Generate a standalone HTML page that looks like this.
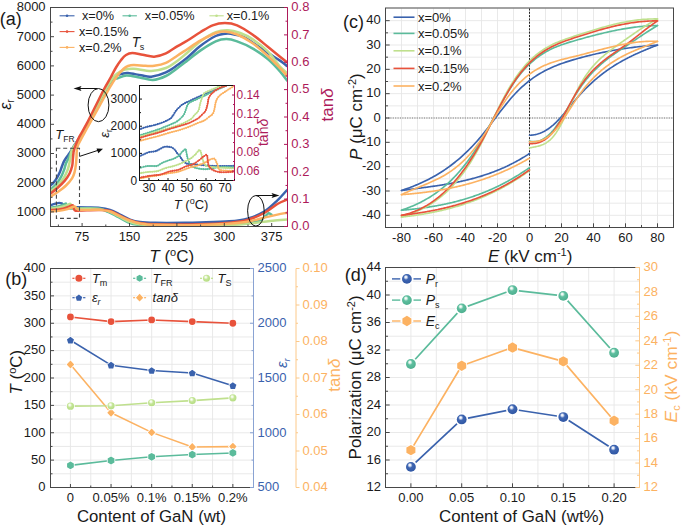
<!DOCTYPE html>
<html><head><meta charset="utf-8"><style>
html,body{margin:0;padding:0;background:#fff;}
svg{display:block;font-family:"Liberation Sans", sans-serif;}
</style></head><body>
<svg width="685" height="528" viewBox="0 0 685 528">
<rect width="685" height="528" fill="#fff"/>
<clipPath id="ca"><rect x="50.5" y="7.5" width="237" height="219"/></clipPath>
<g clip-path="url(#ca)">
<path d="M50.5,205.1 C51,204.95 52.52,204.5 53.5,204.2 C54.48,203.9 55.43,203.52 56.4,203.3 C57.37,203.08 58.42,202.9 59.3,202.9 C60.18,202.9 61.15,203.08 61.7,203.3 C62.25,203.52 62.13,203.78 62.6,204.2 C63.07,204.62 63.77,205.37 64.5,205.8 C65.23,206.23 66.08,206.57 67,206.8 C67.92,207.03 68.35,207.12 70,207.2 C71.65,207.28 74.07,207.25 76.9,207.3 C79.73,207.35 83.15,207.4 87,207.5 C90.85,207.6 96.17,207.48 100,207.9 C103.83,208.32 106.67,208.9 110,210 C113.33,211.1 116.67,212.9 120,214.5 C123.33,216.1 126.67,218.35 130,219.6 C133.33,220.85 135.83,221.47 140,222 C144.17,222.53 147.5,222.67 155,222.8 C162.5,222.93 177.5,222.85 185,222.8 C192.5,222.75 192.63,222.75 200,222.5 C207.37,222.25 221.17,222 229.2,221.3 C237.23,220.6 242.37,219.92 248.2,218.3 C254.03,216.68 259.33,214.58 264.2,211.6 C269.07,208.62 273.6,204 277.4,200.4 C281.2,196.8 285.4,191.73 287,190" fill="none" stroke="#3a62ad" stroke-width="2.4" stroke-linejoin="round" stroke-linecap="round" />
<path d="M50.5,207.7 C51.38,207.55 53.93,207.2 55.8,206.8 C57.67,206.4 60.08,205.83 61.7,205.3 C63.32,204.77 64.73,203.73 65.5,203.6 C66.27,203.47 65.97,203.85 66.3,204.5 C66.63,205.15 66.82,206.82 67.5,207.5 C68.18,208.18 68.83,208.47 70.4,208.6 C71.97,208.73 74.13,208.35 76.9,208.3 C79.67,208.25 83.15,208.22 87,208.3 C90.85,208.38 96.5,208.18 100,208.8 C103.5,209.42 105,210.63 108,212 C111,213.37 114.67,215.28 118,217 C121.33,218.72 124.67,221 128,222.3 C131.33,223.6 133.5,224.28 138,224.8 C142.5,225.32 144.67,225.32 155,225.4 C165.33,225.48 185.2,225.6 200,225.3 C214.8,225 233.8,224.4 243.8,223.6 C253.8,222.8 256.3,221.85 260,220.5 C263.7,219.15 264.57,216.7 266,215.5 C267.43,214.3 267.68,213.43 268.6,213.3 C269.52,213.17 271.02,214.47 271.5,214.7" fill="none" stroke="#5bbb9b" stroke-width="2.4" stroke-linejoin="round" stroke-linecap="round" />
<path d="M50.5,208.6 C51.88,208.4 56.15,207.95 58.8,207.4 C61.45,206.85 64.52,205.93 66.4,205.3 C68.28,204.67 69.33,203.65 70.1,203.6 C70.87,203.55 70.6,204.27 71,205 C71.4,205.73 71.67,207.4 72.5,208 C73.33,208.6 73.58,208.48 76,208.6 C78.42,208.72 83,208.62 87,208.7 C91,208.78 96.33,208.63 100,209.1 C103.67,209.57 105.83,210.27 109,211.5 C112.17,212.73 115.67,214.8 119,216.5 C122.33,218.2 125.67,220.38 129,221.7 C132.33,223.02 134.67,223.8 139,224.4 C143.33,225 144.83,225.15 155,225.3 C165.17,225.45 185.83,225.42 200,225.3 C214.17,225.18 229.78,225.13 240,224.6 C250.22,224.07 255.8,222.75 261.3,222.1 C266.8,221.45 268.72,221.13 273,220.7 C277.28,220.27 284.67,219.7 287,219.5" fill="none" stroke="#bfe08d" stroke-width="2.4" stroke-linejoin="round" stroke-linecap="round" />
<path d="M50.5,210 C51.88,209.9 56.15,209.78 58.8,209.4 C61.45,209.02 64.07,208.42 66.4,207.7 C68.73,206.98 71.55,204.85 72.8,205.1 C74.05,205.35 73.42,208.25 73.9,209.2 C74.38,210.15 74.68,210.57 75.7,210.8 C76.72,211.03 78.12,210.68 80,210.6 C81.88,210.52 83.67,210.4 87,210.3 C90.33,210.2 96.17,209.88 100,210 C103.83,210.12 106.67,210.07 110,211 C113.33,211.93 116.67,214.07 120,215.6 C123.33,217.13 126.67,218.97 130,220.2 C133.33,221.43 135.83,222.32 140,223 C144.17,223.68 145,224.08 155,224.3 C165,224.52 187.5,224.58 200,224.3 C212.5,224.02 221.97,223.38 230,222.6 C238.03,221.82 242.5,221.2 248.2,219.6 C253.9,218 259.33,215.6 264.2,213 C269.07,210.4 273.6,206.22 277.4,204 C281.2,201.78 285.4,200.42 287,199.7" fill="none" stroke="#e8523b" stroke-width="2.4" stroke-linejoin="round" stroke-linecap="round" />
<path d="M50.5,211.5 C51.88,211.4 55.97,211.3 58.8,210.9 C61.63,210.5 64.88,209.83 67.5,209.1 C70.12,208.37 72.93,206.58 74.5,206.5 C76.07,206.42 76.12,208.07 76.9,208.6 C77.68,209.13 77.52,209.48 79.2,209.7 C80.88,209.92 83.53,209.87 87,209.9 C90.47,209.93 96.17,209.63 100,209.9 C103.83,210.17 106.67,210.45 110,211.5 C113.33,212.55 116.67,214.68 120,216.2 C123.33,217.72 126.67,219.4 130,220.6 C133.33,221.8 135.83,222.72 140,223.4 C144.17,224.08 145,224.45 155,224.7 C165,224.95 185.2,225.32 200,224.9 C214.8,224.48 233.1,223.42 243.8,222.2 C254.5,220.98 258.6,218.85 264.2,217.6 C269.8,216.35 273.6,215.5 277.4,214.7 C281.2,213.9 285.4,213.12 287,212.8" fill="none" stroke="#fcb262" stroke-width="2.4" stroke-linejoin="round" stroke-linecap="round" />
<path d="M50.5,185.5 C51.03,184.98 52.65,183.63 53.7,182.4 C54.75,181.17 55.77,179.83 56.8,178.1 C57.83,176.37 59.08,173.85 59.9,172 C60.72,170.15 61.08,168.65 61.7,167 C62.32,165.35 62.98,163.43 63.6,162.1 C64.22,160.77 64.58,160.23 65.4,159 C66.22,157.77 67.57,156.03 68.5,154.7 C69.43,153.37 69.98,152.62 71,151 C72.02,149.38 73.2,147.17 74.6,145 C76,142.83 77.33,141.42 79.4,138 C81.47,134.58 84.3,129.5 87,124.5 C89.7,119.5 92.75,113.42 95.6,108 C98.45,102.58 101.55,96.67 104.1,92 C106.65,87.33 108.92,82.75 110.9,80 C112.88,77.25 114.13,76.53 116,75.5 C117.87,74.47 120.1,74.2 122.1,73.8 C124.1,73.4 124.83,72.85 128,73.1 C131.17,73.35 137.22,74.7 141.1,75.3 C144.98,75.9 147.17,77.2 151.3,76.7 C155.43,76.2 161.52,74.25 165.9,72.3 C170.28,70.35 174,67.47 177.6,65 C181.2,62.53 183.72,60.67 187.5,57.5 C191.28,54.33 195.6,49.58 200.3,46 C205,42.42 211.6,38.03 215.7,36 C219.8,33.97 222.35,34.17 224.9,33.8 C227.45,33.43 227.95,33.3 231,33.8 C234.05,34.3 239.12,35.02 243.2,36.8 C247.28,38.58 251.4,41.82 255.5,44.5 C259.6,47.18 263.72,50.22 267.8,52.9 C271.88,55.58 276.8,58.42 280,60.6 C283.2,62.78 285.83,65.1 287,66" fill="none" stroke="#3a62ad" stroke-width="2.5" stroke-linejoin="round" stroke-linecap="round" />
<path d="M50.5,189.8 C51.45,188.88 54.43,186.45 56.2,184.3 C57.97,182.15 59.77,179.37 61.1,176.9 C62.43,174.43 63.38,171.77 64.2,169.5 C65.02,167.23 65.28,165.15 66,163.3 C66.72,161.45 67.67,160.23 68.5,158.4 C69.33,156.57 70,154.37 71,152.3 C72,150.23 73.1,148.22 74.5,146 C75.9,143.78 77.32,142.42 79.4,139 C81.48,135.58 84.3,130.5 87,125.5 C89.7,120.5 92.75,114.42 95.6,109 C98.45,103.58 101.55,97.5 104.1,93 C106.65,88.5 109.17,84.33 110.9,82 C112.63,79.67 113.37,79.63 114.5,79 C115.63,78.37 115.7,78.78 117.7,78.2 C119.7,77.62 122.85,75.63 126.5,75.5 C130.15,75.37 135.22,76.67 139.6,77.4 C143.98,78.13 148.42,80.13 152.8,79.9 C157.18,79.67 161.77,77.98 165.9,76 C170.03,74.02 174,70.58 177.6,68 C181.2,65.42 183.72,63.4 187.5,60.5 C191.28,57.6 195.6,53.78 200.3,50.6 C205,47.42 211.35,43.32 215.7,41.4 C220.05,39.48 222.83,39.1 226.4,39.1 C229.97,39.1 232.77,39.87 237.1,41.4 C241.43,42.93 247.28,45.37 252.4,48.3 C257.52,51.23 263.2,55.17 267.8,59 C272.4,62.83 276.8,67.72 280,71.3 C283.2,74.88 285.83,78.97 287,80.5" fill="none" stroke="#5bbb9b" stroke-width="2.5" stroke-linejoin="round" stroke-linecap="round" />
<path d="M50.5,191.7 C51.65,190.67 55.22,187.77 57.4,185.5 C59.58,183.23 61.95,180.57 63.6,178.1 C65.25,175.63 66.38,172.95 67.3,170.7 C68.22,168.45 68.6,166.65 69.1,164.6 C69.6,162.55 69.88,160.67 70.3,158.4 C70.72,156.13 70.93,153.07 71.6,151 C72.27,148.93 73,148.08 74.3,146 C75.6,143.92 77.28,142 79.4,138.5 C81.52,135 84.3,130 87,125 C89.7,120 92.75,114 95.6,108.5 C98.45,103 101.55,96.67 104.1,92 C106.65,87.33 109.08,83.25 110.9,80.5 C112.72,77.75 113.62,76.87 115,75.5 C116.38,74.13 117.53,73.3 119.2,72.3 C120.87,71.3 122.57,70.1 125,69.5 C127.43,68.9 129.42,68.47 133.8,68.7 C138.18,68.93 145.95,71.02 151.3,70.9 C156.65,70.78 161.52,69.7 165.9,68 C170.28,66.3 174,63.28 177.6,60.7 C181.2,58.12 183.72,55.72 187.5,52.5 C191.28,49.28 195.6,44.78 200.3,41.4 C205,38.02 211.1,34.07 215.7,32.2 C220.3,30.33 223.82,30.07 227.9,30.2 C231.98,30.33 236.12,31.52 240.2,33 C244.28,34.48 247.8,36.03 252.4,39.1 C257,42.17 263.2,46.8 267.8,51.4 C272.4,56 276.8,63.1 280,66.7 C283.2,70.3 285.83,71.95 287,73" fill="none" stroke="#bfe08d" stroke-width="2.5" stroke-linejoin="round" stroke-linecap="round" />
<path d="M50.5,196.6 C51.65,195.88 54.82,194.15 57.4,192.3 C59.98,190.45 63.53,187.87 66,185.5 C68.47,183.13 70.77,180.35 72.2,178.1 C73.63,175.85 73.98,174.25 74.6,172 C75.22,169.75 75.58,167.07 75.9,164.6 C76.22,162.13 76.35,159.48 76.5,157.2 C76.65,154.92 76.47,153.08 76.8,150.9 C77.13,148.72 76.8,147.88 78.5,144.1 C80.2,140.32 84.15,133.42 87,128.2 C89.85,122.98 92.75,117.92 95.6,112.8 C98.45,107.68 101.55,102.03 104.1,97.5 C106.65,92.97 108.63,89.3 110.9,85.6 C113.17,81.9 115.58,78.12 117.7,75.3 C119.82,72.48 121.88,70.25 123.6,68.7 C125.32,67.15 126.3,66.62 128,66 C129.7,65.38 130.88,65.03 133.8,65 C136.72,64.97 142.1,65.67 145.5,65.8 C148.9,65.93 150.8,66.3 154.2,65.8 C157.6,65.3 162,64.52 165.9,62.8 C169.8,61.08 174,57.8 177.6,55.5 C181.2,53.2 183.72,51.47 187.5,49 C191.28,46.53 195.6,43.37 200.3,40.7 C205,38.03 211.6,34.53 215.7,33 C219.8,31.47 221.33,31.25 224.9,31.5 C228.47,31.75 232.52,32.58 237.1,34.5 C241.68,36.42 247.28,39.42 252.4,43 C257.52,46.58 263.2,51.8 267.8,56 C272.4,60.2 276.8,64.87 280,68.2 C283.2,71.53 285.83,74.7 287,76" fill="none" stroke="#fcb262" stroke-width="2.5" stroke-linejoin="round" stroke-linecap="round" />
<path d="M50.5,193.5 C51.65,192.58 55.02,190.15 57.4,188 C59.78,185.85 62.75,183.07 64.8,180.6 C66.85,178.13 68.47,175.67 69.7,173.2 C70.93,170.73 71.68,168.07 72.2,165.8 C72.72,163.53 72.6,161.65 72.8,159.6 C73,157.55 73.23,154.95 73.4,153.5 C73.57,152.05 73.37,152.47 73.8,150.9 C74.23,149.33 75.07,146.47 76,144.1 C76.93,141.73 77.57,140.2 79.4,136.7 C81.23,133.2 84.3,128.22 87,123.1 C89.7,117.98 92.75,111.68 95.6,106 C98.45,100.32 101.55,93.83 104.1,89 C106.65,84.17 108.92,80.58 110.9,77 C112.88,73.42 114.3,70.33 116,67.5 C117.7,64.67 119.43,62.08 121.1,60 C122.77,57.92 124.13,56.15 126,55 C127.87,53.85 129.53,53.13 132.3,53.1 C135.07,53.07 138.95,54.2 142.6,54.8 C146.25,55.4 150.32,56.93 154.2,56.7 C158.08,56.47 162,55.17 165.9,53.4 C169.8,51.63 174,48.25 177.6,46.1 C181.2,43.95 183.72,42.82 187.5,40.5 C191.28,38.18 196.12,34.73 200.3,32.2 C204.48,29.67 208.5,26.83 212.6,25.3 C216.7,23.77 220.82,23 224.9,23 C228.98,23 232.52,23.38 237.1,25.3 C241.68,27.22 247.28,30.92 252.4,34.5 C257.52,38.08 263.2,43.1 267.8,46.8 C272.4,50.5 276.8,54.12 280,56.7 C283.2,59.28 285.83,61.37 287,62.3" fill="none" stroke="#e8523b" stroke-width="2.5" stroke-linejoin="round" stroke-linecap="round" />
</g>
<line x1="50.5" y1="7.5" x2="287.5" y2="7.5" stroke="#474747" stroke-width="1" />
<line x1="50.5" y1="7" x2="50.5" y2="227" stroke="#474747" stroke-width="1" />
<line x1="50.5" y1="226.5" x2="287.5" y2="226.5" stroke="#474747" stroke-width="1" />
<line x1="287.5" y1="7.5" x2="287.5" y2="227" stroke="#ad1a5a" stroke-width="1" />
<line x1="82.1" y1="226.5" x2="82.1" y2="223" stroke="#474747" stroke-width="1" />
<text x="82.1" y="240.8" font-size="13" text-anchor="middle" fill="#1a1a1a" >75</text>
<line x1="129.5" y1="226.5" x2="129.5" y2="223" stroke="#474747" stroke-width="1" />
<text x="129.5" y="240.8" font-size="13" text-anchor="middle" fill="#1a1a1a" >150</text>
<line x1="176.9" y1="226.5" x2="176.9" y2="223" stroke="#474747" stroke-width="1" />
<text x="176.9" y="240.8" font-size="13" text-anchor="middle" fill="#1a1a1a" >225</text>
<line x1="224.3" y1="226.5" x2="224.3" y2="223" stroke="#474747" stroke-width="1" />
<text x="224.3" y="240.8" font-size="13" text-anchor="middle" fill="#1a1a1a" >300</text>
<line x1="271.7" y1="226.5" x2="271.7" y2="223" stroke="#474747" stroke-width="1" />
<text x="271.7" y="240.8" font-size="13" text-anchor="middle" fill="#1a1a1a" >375</text>
<line x1="58.4" y1="226.5" x2="58.4" y2="224.5" stroke="#474747" stroke-width="1" />
<line x1="105.8" y1="226.5" x2="105.8" y2="224.5" stroke="#474747" stroke-width="1" />
<line x1="153.2" y1="226.5" x2="153.2" y2="224.5" stroke="#474747" stroke-width="1" />
<line x1="200.6" y1="226.5" x2="200.6" y2="224.5" stroke="#474747" stroke-width="1" />
<line x1="248" y1="226.5" x2="248" y2="224.5" stroke="#474747" stroke-width="1" />
<line x1="50.5" y1="211.9" x2="54" y2="211.9" stroke="#474747" stroke-width="1" />
<text x="45.6" y="215.7" font-size="13" text-anchor="end" fill="#1a1a1a" >1000</text>
<line x1="50.5" y1="182.7" x2="54" y2="182.7" stroke="#474747" stroke-width="1" />
<text x="45.6" y="186.5" font-size="13" text-anchor="end" fill="#1a1a1a" >2000</text>
<line x1="50.5" y1="153.5" x2="54" y2="153.5" stroke="#474747" stroke-width="1" />
<text x="45.6" y="157.3" font-size="13" text-anchor="end" fill="#1a1a1a" >3000</text>
<line x1="50.5" y1="124.3" x2="54" y2="124.3" stroke="#474747" stroke-width="1" />
<text x="45.6" y="128.1" font-size="13" text-anchor="end" fill="#1a1a1a" >4000</text>
<line x1="50.5" y1="95.1" x2="54" y2="95.1" stroke="#474747" stroke-width="1" />
<text x="45.6" y="98.9" font-size="13" text-anchor="end" fill="#1a1a1a" >5000</text>
<line x1="50.5" y1="65.9" x2="54" y2="65.9" stroke="#474747" stroke-width="1" />
<text x="45.6" y="69.7" font-size="13" text-anchor="end" fill="#1a1a1a" >6000</text>
<line x1="50.5" y1="36.7" x2="54" y2="36.7" stroke="#474747" stroke-width="1" />
<text x="45.6" y="40.5" font-size="13" text-anchor="end" fill="#1a1a1a" >7000</text>
<line x1="50.5" y1="7.5" x2="54" y2="7.5" stroke="#474747" stroke-width="1" />
<text x="45.6" y="11.3" font-size="13" text-anchor="end" fill="#1a1a1a" >8000</text>
<line x1="50.5" y1="226.5" x2="52.5" y2="226.5" stroke="#474747" stroke-width="1" />
<line x1="50.5" y1="197.3" x2="52.5" y2="197.3" stroke="#474747" stroke-width="1" />
<line x1="50.5" y1="168.1" x2="52.5" y2="168.1" stroke="#474747" stroke-width="1" />
<line x1="50.5" y1="138.9" x2="52.5" y2="138.9" stroke="#474747" stroke-width="1" />
<line x1="50.5" y1="109.7" x2="52.5" y2="109.7" stroke="#474747" stroke-width="1" />
<line x1="50.5" y1="80.5" x2="52.5" y2="80.5" stroke="#474747" stroke-width="1" />
<line x1="50.5" y1="51.3" x2="52.5" y2="51.3" stroke="#474747" stroke-width="1" />
<line x1="50.5" y1="22.1" x2="52.5" y2="22.1" stroke="#474747" stroke-width="1" />
<line x1="287.5" y1="226.5" x2="284" y2="226.5" stroke="#ad1a5a" stroke-width="1" />
<text x="291.3" y="230.3" font-size="13" text-anchor="start" fill="#ad1a5a" >0.0</text>
<line x1="287.5" y1="199.12" x2="284" y2="199.12" stroke="#ad1a5a" stroke-width="1" />
<text x="291.3" y="202.93" font-size="13" text-anchor="start" fill="#ad1a5a" >0.1</text>
<line x1="287.5" y1="171.75" x2="284" y2="171.75" stroke="#ad1a5a" stroke-width="1" />
<text x="291.3" y="175.55" font-size="13" text-anchor="start" fill="#ad1a5a" >0.2</text>
<line x1="287.5" y1="144.38" x2="284" y2="144.38" stroke="#ad1a5a" stroke-width="1" />
<text x="291.3" y="148.18" font-size="13" text-anchor="start" fill="#ad1a5a" >0.3</text>
<line x1="287.5" y1="117" x2="284" y2="117" stroke="#ad1a5a" stroke-width="1" />
<text x="291.3" y="120.8" font-size="13" text-anchor="start" fill="#ad1a5a" >0.4</text>
<line x1="287.5" y1="89.62" x2="284" y2="89.62" stroke="#ad1a5a" stroke-width="1" />
<text x="291.3" y="93.42" font-size="13" text-anchor="start" fill="#ad1a5a" >0.5</text>
<line x1="287.5" y1="62.25" x2="284" y2="62.25" stroke="#ad1a5a" stroke-width="1" />
<text x="291.3" y="66.05" font-size="13" text-anchor="start" fill="#ad1a5a" >0.6</text>
<line x1="287.5" y1="34.88" x2="284" y2="34.88" stroke="#ad1a5a" stroke-width="1" />
<text x="291.3" y="38.68" font-size="13" text-anchor="start" fill="#ad1a5a" >0.7</text>
<line x1="287.5" y1="7.5" x2="284" y2="7.5" stroke="#ad1a5a" stroke-width="1" />
<text x="291.3" y="11.3" font-size="13" text-anchor="start" fill="#ad1a5a" >0.8</text>
<line x1="287.5" y1="212.81" x2="285.5" y2="212.81" stroke="#ad1a5a" stroke-width="1" />
<line x1="287.5" y1="185.44" x2="285.5" y2="185.44" stroke="#ad1a5a" stroke-width="1" />
<line x1="287.5" y1="158.06" x2="285.5" y2="158.06" stroke="#ad1a5a" stroke-width="1" />
<line x1="287.5" y1="130.69" x2="285.5" y2="130.69" stroke="#ad1a5a" stroke-width="1" />
<line x1="287.5" y1="103.31" x2="285.5" y2="103.31" stroke="#ad1a5a" stroke-width="1" />
<line x1="287.5" y1="75.94" x2="285.5" y2="75.94" stroke="#ad1a5a" stroke-width="1" />
<line x1="287.5" y1="48.56" x2="285.5" y2="48.56" stroke="#ad1a5a" stroke-width="1" />
<line x1="287.5" y1="21.19" x2="285.5" y2="21.19" stroke="#ad1a5a" stroke-width="1" />
<text x="-0.3" y="24.9" font-size="18" text-anchor="start" fill="#1a1a1a" >(a)</text>
<text x="149.3" y="262" font-size="17" text-anchor="start" fill="#1a1a1a" ><tspan font-style="italic">T</tspan> (<tspan font-size="11" dy="-6">o</tspan><tspan dy="6">C)</tspan></text>
<text transform="translate(333.3,104.9) rotate(-90)" font-size="17" text-anchor="middle" fill="#ad1a5a">tan<tspan font-style="italic">δ</tspan></text>
<text transform="translate(10.6,104.6) rotate(-90)" font-size="16" text-anchor="middle" fill="#1a1a1a"><tspan font-style="italic">ε</tspan><tspan font-size="10" dy="3.5">r</tspan></text>
<line x1="59.6" y1="15.8" x2="74.5" y2="15.8" stroke="#3a62ad" stroke-width="1.1" />
<circle cx="67.05" cy="15.8" r="1.3" fill="#3a62ad"/>
<text x="81.9" y="20.2" font-size="12.7" text-anchor="start" fill="#1a1a1a" >x=0%</text>
<line x1="122.5" y1="15.8" x2="136.9" y2="15.8" stroke="#5bbb9b" stroke-width="1.1" />
<circle cx="129.7" cy="15.8" r="1.3" fill="#5bbb9b"/>
<text x="144.8" y="20.2" font-size="12.7" text-anchor="start" fill="#1a1a1a" >x=0.05%</text>
<line x1="209.4" y1="15.8" x2="223.7" y2="15.8" stroke="#bfe08d" stroke-width="1.1" />
<circle cx="216.55" cy="15.8" r="1.3" fill="#bfe08d"/>
<text x="226.7" y="20.2" font-size="12.7" text-anchor="start" fill="#1a1a1a" >x=0.1%</text>
<line x1="59.6" y1="31.6" x2="74.5" y2="31.6" stroke="#e8523b" stroke-width="1.1" />
<circle cx="67.05" cy="31.6" r="1.3" fill="#e8523b"/>
<text x="78.9" y="36" font-size="12.7" text-anchor="start" fill="#1a1a1a" >x=0.15%</text>
<line x1="59.6" y1="47.4" x2="74.5" y2="47.4" stroke="#fcb262" stroke-width="1.1" />
<circle cx="67.05" cy="47.4" r="1.3" fill="#fcb262"/>
<text x="78.9" y="51.8" font-size="12.7" text-anchor="start" fill="#1a1a1a" >x=0.2%</text>
<text x="131.8" y="46.8" font-size="13.8" text-anchor="start" fill="#1a1a1a" ><tspan font-style="italic">T</tspan><tspan font-size="9" dx="-0.6" dy="3.4">s</tspan></text>
<text x="55.3" y="138.8" font-size="13.2" text-anchor="start" fill="#1a1a1a" ><tspan font-style="italic">T</tspan><tspan font-size="8.5" dy="3">FR</tspan></text>
<rect x="56.4" y="148.2" width="23.1" height="70.2" fill="none" stroke="#474747" stroke-width="1.1" stroke-dasharray="4,2.8"/>
<line x1="79.5" y1="156.4" x2="100" y2="149.7" stroke="#111" stroke-width="1" />
<path d="M103,148.7 L96.5,148.4 L98.3,153.2 Z" fill="#111"/>
<ellipse cx="98.5" cy="105.1" rx="10.4" ry="16.6" fill="none" stroke="#111" stroke-width="1"/>
<line x1="97.5" y1="88.5" x2="78" y2="88.5" stroke="#111" stroke-width="1" />
<path d="M73.5,88.5 L81.5,86.1 L80,88.5 L81.5,90.9 Z" fill="#111"/>
<ellipse cx="255.9" cy="210.8" rx="8.3" ry="15.3" fill="none" stroke="#111" stroke-width="1"/>
<line x1="256" y1="195.5" x2="275" y2="195.5" stroke="#111" stroke-width="1" />
<path d="M279.5,195.5 L271.5,193.1 L273,195.5 L271.5,197.9 Z" fill="#111"/>
<rect x="139.5" y="85.5" width="95" height="95" fill="#fff"/>
<clipPath id="ci"><rect x="139.5" y="85.5" width="95" height="95"/></clipPath>
<g clip-path="url(#ci)">
<path d="M139.6,156.2 C140.38,155.85 142.77,154.77 144.3,154.1 C145.83,153.43 147.15,152.63 148.8,152.2 C150.45,151.77 152.73,151.82 154.2,151.5 C155.67,151.18 156.35,150.87 157.6,150.3 C158.85,149.73 160.5,148.7 161.7,148.1 C162.9,147.5 163.53,146.9 164.8,146.7 C166.07,146.5 168.05,146.73 169.3,146.9 C170.55,147.07 171.35,147.18 172.3,147.7 C173.25,148.22 174.17,149.05 175,150 C175.83,150.95 176.63,152.57 177.3,153.4 C177.97,154.23 178.5,154.4 179,155 C179.5,155.6 179.72,156.15 180.3,157 C180.88,157.85 181.62,159.08 182.5,160.1 C183.38,161.12 184.58,162.47 185.6,163.1 C186.62,163.73 187.33,163.72 188.6,163.9 C189.87,164.08 191.18,164.02 193.2,164.2 C195.22,164.38 197.93,164.73 200.7,165 C203.47,165.27 206.92,165.63 209.8,165.8 C212.68,165.97 213.8,165.98 218,166 C222.2,166.02 232.17,165.92 235,165.9" fill="none" stroke="#3a62ad" stroke-width="1.0" stroke-linejoin="round" stroke-linecap="round" />
<path d="M139.6,156.2 C140.38,155.85 142.77,154.77 144.3,154.1 C145.83,153.43 147.15,152.63 148.8,152.2 C150.45,151.77 152.73,151.82 154.2,151.5 C155.67,151.18 156.35,150.87 157.6,150.3 C158.85,149.73 160.5,148.7 161.7,148.1 C162.9,147.5 163.53,146.9 164.8,146.7 C166.07,146.5 168.05,146.73 169.3,146.9 C170.55,147.07 171.35,147.18 172.3,147.7 C173.25,148.22 174.17,149.05 175,150 C175.83,150.95 176.63,152.57 177.3,153.4 C177.97,154.23 178.5,154.4 179,155 C179.5,155.6 179.72,156.15 180.3,157 C180.88,157.85 181.62,159.08 182.5,160.1 C183.38,161.12 184.58,162.47 185.6,163.1 C186.62,163.73 187.33,163.72 188.6,163.9 C189.87,164.08 191.18,164.02 193.2,164.2 C195.22,164.38 197.93,164.73 200.7,165 C203.47,165.27 206.92,165.63 209.8,165.8 C212.68,165.97 213.8,165.98 218,166 C222.2,166.02 232.17,165.92 235,165.9" fill="none" stroke="#3a62ad" stroke-width="2.1" stroke-linecap="round" stroke-dasharray="0 2.1"/>
<path d="M139.6,167.9 C140.77,167.62 144.53,166.52 146.6,166.2 C148.67,165.88 150.23,166.05 152,166 C153.77,165.95 155.58,166.37 157.2,165.9 C158.82,165.43 159.93,164.08 161.7,163.2 C163.47,162.32 165.9,161.3 167.8,160.6 C169.7,159.9 171.23,159.83 173.1,159 C174.97,158.17 177.55,156.75 179,155.6 C180.45,154.45 180.95,153 181.8,152.1 C182.65,151.2 183.47,150.7 184.1,150.2 C184.73,149.7 185.1,148.15 185.6,149.1 C186.1,150.05 186.6,153.88 187.1,155.9 C187.6,157.92 187.72,159.43 188.6,161.2 C189.48,162.97 190.88,165.3 192.4,166.5 C193.92,167.7 195.68,167.95 197.7,168.4 C199.72,168.85 202.48,169.13 204.5,169.2 C206.52,169.27 207.55,169.12 209.8,168.8 C212.05,168.48 213.8,167.57 218,167.3 C222.2,167.03 232.17,167.22 235,167.2" fill="none" stroke="#5bbb9b" stroke-width="1.0" stroke-linejoin="round" stroke-linecap="round" />
<path d="M139.6,167.9 C140.77,167.62 144.53,166.52 146.6,166.2 C148.67,165.88 150.23,166.05 152,166 C153.77,165.95 155.58,166.37 157.2,165.9 C158.82,165.43 159.93,164.08 161.7,163.2 C163.47,162.32 165.9,161.3 167.8,160.6 C169.7,159.9 171.23,159.83 173.1,159 C174.97,158.17 177.55,156.75 179,155.6 C180.45,154.45 180.95,153 181.8,152.1 C182.65,151.2 183.47,150.7 184.1,150.2 C184.73,149.7 185.1,148.15 185.6,149.1 C186.1,150.05 186.6,153.88 187.1,155.9 C187.6,157.92 187.72,159.43 188.6,161.2 C189.48,162.97 190.88,165.3 192.4,166.5 C193.92,167.7 195.68,167.95 197.7,168.4 C199.72,168.85 202.48,169.13 204.5,169.2 C206.52,169.27 207.55,169.12 209.8,168.8 C212.05,168.48 213.8,167.57 218,167.3 C222.2,167.03 232.17,167.22 235,167.2" fill="none" stroke="#5bbb9b" stroke-width="2.1" stroke-linecap="round" stroke-dasharray="0 2.1"/>
<path d="M139.6,173.2 C141.13,172.98 145.87,172.23 148.8,171.9 C151.73,171.57 154.42,171.83 157.2,171.2 C159.98,170.57 162.85,168.93 165.5,168.1 C168.15,167.27 171.02,166.78 173.1,166.2 C175.18,165.62 175.92,165.43 178,164.6 C180.08,163.77 183.33,162.33 185.6,161.2 C187.87,160.07 189.83,159.07 191.6,157.8 C193.37,156.53 195.05,154.8 196.2,153.6 C197.35,152.4 197.87,151.17 198.5,150.6 C199.13,150.03 199.57,149.82 200,150.2 C200.43,150.58 200.6,151.18 201.1,152.9 C201.6,154.62 202.3,158.48 203,160.5 C203.7,162.52 204.42,164 205.3,165 C206.18,166 206.18,166.08 208.3,166.5 C210.42,166.92 213.55,167.18 218,167.5 C222.45,167.82 232.17,168.25 235,168.4" fill="none" stroke="#bfe08d" stroke-width="1.0" stroke-linejoin="round" stroke-linecap="round" />
<path d="M139.6,173.2 C141.13,172.98 145.87,172.23 148.8,171.9 C151.73,171.57 154.42,171.83 157.2,171.2 C159.98,170.57 162.85,168.93 165.5,168.1 C168.15,167.27 171.02,166.78 173.1,166.2 C175.18,165.62 175.92,165.43 178,164.6 C180.08,163.77 183.33,162.33 185.6,161.2 C187.87,160.07 189.83,159.07 191.6,157.8 C193.37,156.53 195.05,154.8 196.2,153.6 C197.35,152.4 197.87,151.17 198.5,150.6 C199.13,150.03 199.57,149.82 200,150.2 C200.43,150.58 200.6,151.18 201.1,152.9 C201.6,154.62 202.3,158.48 203,160.5 C203.7,162.52 204.42,164 205.3,165 C206.18,166 206.18,166.08 208.3,166.5 C210.42,166.92 213.55,167.18 218,167.5 C222.45,167.82 232.17,168.25 235,168.4" fill="none" stroke="#bfe08d" stroke-width="2.1" stroke-linecap="round" stroke-dasharray="0 2.1"/>
<path d="M139.6,178.5 C141.4,178.17 146.97,177.08 150.4,176.5 C153.83,175.92 157.05,175.57 160.2,175 C163.35,174.43 166.33,173.63 169.3,173.1 C172.27,172.57 174.65,172.7 178,171.8 C181.35,170.9 185.87,168.83 189.4,167.7 C192.93,166.57 196.3,166.02 199.2,165 C202.1,163.98 204.9,162.55 206.8,161.6 C208.7,160.65 209.47,159.8 210.6,159.3 C211.73,158.8 212.85,158.6 213.6,158.6 C214.35,158.6 214.6,158.62 215.1,159.3 C215.6,159.98 216.12,161.62 216.6,162.7 C217.08,163.78 217.62,164.7 218,165.8 C218.38,166.9 218.13,168.53 218.9,169.3 C219.67,170.07 219.92,170.13 222.6,170.4 C225.28,170.67 232.93,170.82 235,170.9" fill="none" stroke="#fcb262" stroke-width="1.0" stroke-linejoin="round" stroke-linecap="round" />
<path d="M139.6,178.5 C141.4,178.17 146.97,177.08 150.4,176.5 C153.83,175.92 157.05,175.57 160.2,175 C163.35,174.43 166.33,173.63 169.3,173.1 C172.27,172.57 174.65,172.7 178,171.8 C181.35,170.9 185.87,168.83 189.4,167.7 C192.93,166.57 196.3,166.02 199.2,165 C202.1,163.98 204.9,162.55 206.8,161.6 C208.7,160.65 209.47,159.8 210.6,159.3 C211.73,158.8 212.85,158.6 213.6,158.6 C214.35,158.6 214.6,158.62 215.1,159.3 C215.6,159.98 216.12,161.62 216.6,162.7 C217.08,163.78 217.62,164.7 218,165.8 C218.38,166.9 218.13,168.53 218.9,169.3 C219.67,170.07 219.92,170.13 222.6,170.4 C225.28,170.67 232.93,170.82 235,170.9" fill="none" stroke="#fcb262" stroke-width="2.1" stroke-linecap="round" stroke-dasharray="0 2.1"/>
<path d="M139.6,177.7 C141.4,177.37 146.97,176.22 150.4,175.7 C153.83,175.18 157.05,175.3 160.2,174.6 C163.35,173.9 166.33,172.28 169.3,171.5 C172.27,170.72 175.28,170.73 178,169.9 C180.72,169.07 183.07,167.45 185.6,166.5 C188.13,165.55 190.93,165.27 193.2,164.2 C195.47,163.13 197.43,161.42 199.2,160.1 C200.97,158.78 202.53,157.18 203.8,156.3 C205.07,155.42 206.18,154.48 206.8,154.8 C207.42,155.12 207.25,156.63 207.5,158.2 C207.75,159.77 207.78,162.5 208.3,164.2 C208.82,165.9 209.58,167.32 210.6,168.4 C211.62,169.48 213.17,170.13 214.4,170.7 C215.63,171.27 216.63,171.53 218,171.8 C219.37,172.07 219.77,172.32 222.6,172.3 C225.43,172.28 232.93,171.8 235,171.7" fill="none" stroke="#e8523b" stroke-width="1.0" stroke-linejoin="round" stroke-linecap="round" />
<path d="M139.6,177.7 C141.4,177.37 146.97,176.22 150.4,175.7 C153.83,175.18 157.05,175.3 160.2,174.6 C163.35,173.9 166.33,172.28 169.3,171.5 C172.27,170.72 175.28,170.73 178,169.9 C180.72,169.07 183.07,167.45 185.6,166.5 C188.13,165.55 190.93,165.27 193.2,164.2 C195.47,163.13 197.43,161.42 199.2,160.1 C200.97,158.78 202.53,157.18 203.8,156.3 C205.07,155.42 206.18,154.48 206.8,154.8 C207.42,155.12 207.25,156.63 207.5,158.2 C207.75,159.77 207.78,162.5 208.3,164.2 C208.82,165.9 209.58,167.32 210.6,168.4 C211.62,169.48 213.17,170.13 214.4,170.7 C215.63,171.27 216.63,171.53 218,171.8 C219.37,172.07 219.77,172.32 222.6,172.3 C225.43,172.28 232.93,171.8 235,171.7" fill="none" stroke="#e8523b" stroke-width="2.1" stroke-linecap="round" stroke-dasharray="0 2.1"/>
<path d="M139.6,129.3 C140.6,128.95 143.48,127.82 145.6,127.2 C147.72,126.58 150.53,126.03 152.3,125.6 C154.07,125.17 154.55,125.1 156.2,124.6 C157.85,124.1 160.32,123.32 162.2,122.6 C164.08,121.88 166.07,121.02 167.5,120.3 C168.93,119.58 170.02,118.92 170.8,118.3 C171.58,117.68 171.77,117.17 172.2,116.6 C172.63,116.03 172.95,115.6 173.4,114.9 C173.85,114.2 174.35,113.25 174.9,112.4 C175.45,111.55 176.02,110.62 176.7,109.8 C177.38,108.98 178.13,108.32 179,107.5 C179.87,106.68 180.83,105.68 181.9,104.9 C182.97,104.12 184.13,103.43 185.4,102.8 C186.67,102.17 188.03,101.78 189.5,101.1 C190.97,100.42 192.63,99.43 194.2,98.7 C195.77,97.97 197.53,97.33 198.9,96.7 C200.27,96.07 201.38,95.38 202.4,94.9 C203.42,94.42 203.83,94.25 205,93.8 C206.17,93.35 207.4,92.97 209.4,92.2 C211.4,91.43 214.48,90.22 217,89.2 C219.52,88.18 222.83,86.75 224.5,86.1 C226.17,85.45 226.58,85.43 227,85.3" fill="none" stroke="#3a62ad" stroke-width="1.0" stroke-linejoin="round" stroke-linecap="round" />
<path d="M139.6,129.3 C140.6,128.95 143.48,127.82 145.6,127.2 C147.72,126.58 150.53,126.03 152.3,125.6 C154.07,125.17 154.55,125.1 156.2,124.6 C157.85,124.1 160.32,123.32 162.2,122.6 C164.08,121.88 166.07,121.02 167.5,120.3 C168.93,119.58 170.02,118.92 170.8,118.3 C171.58,117.68 171.77,117.17 172.2,116.6 C172.63,116.03 172.95,115.6 173.4,114.9 C173.85,114.2 174.35,113.25 174.9,112.4 C175.45,111.55 176.02,110.62 176.7,109.8 C177.38,108.98 178.13,108.32 179,107.5 C179.87,106.68 180.83,105.68 181.9,104.9 C182.97,104.12 184.13,103.43 185.4,102.8 C186.67,102.17 188.03,101.78 189.5,101.1 C190.97,100.42 192.63,99.43 194.2,98.7 C195.77,97.97 197.53,97.33 198.9,96.7 C200.27,96.07 201.38,95.38 202.4,94.9 C203.42,94.42 203.83,94.25 205,93.8 C206.17,93.35 207.4,92.97 209.4,92.2 C211.4,91.43 214.48,90.22 217,89.2 C219.52,88.18 222.83,86.75 224.5,86.1 C226.17,85.45 226.58,85.43 227,85.3" fill="none" stroke="#3a62ad" stroke-width="2.1" stroke-linecap="round" stroke-dasharray="0 2.1"/>
<path d="M139.6,135.3 C141.17,134.83 145.78,133.52 149,132.5 C152.22,131.48 155.58,130.42 158.9,129.2 C162.22,127.98 166.13,126.35 168.9,125.2 C171.67,124.05 173.82,123.18 175.5,122.3 C177.18,121.42 178,120.7 179,119.9 C180,119.1 180.72,118.32 181.5,117.5 C182.28,116.68 183.1,115.93 183.7,115 C184.3,114.07 184.67,113 185.1,111.9 C185.53,110.8 185.95,109.43 186.3,108.4 C186.65,107.37 186.77,106.58 187.2,105.7 C187.63,104.82 188.22,103.78 188.9,103.1 C189.58,102.42 190.22,102.13 191.3,101.6 C192.38,101.07 193.95,100.57 195.4,99.9 C196.85,99.23 198.4,98.33 200,97.6 C201.6,96.87 203.43,96.23 205,95.5 C206.57,94.77 207.4,94.15 209.4,93.2 C211.4,92.25 214.48,90.93 217,89.8 C219.52,88.67 222.83,87.15 224.5,86.4 C226.17,85.65 226.58,85.48 227,85.3" fill="none" stroke="#5bbb9b" stroke-width="1.0" stroke-linejoin="round" stroke-linecap="round" />
<path d="M139.6,135.3 C141.17,134.83 145.78,133.52 149,132.5 C152.22,131.48 155.58,130.42 158.9,129.2 C162.22,127.98 166.13,126.35 168.9,125.2 C171.67,124.05 173.82,123.18 175.5,122.3 C177.18,121.42 178,120.7 179,119.9 C180,119.1 180.72,118.32 181.5,117.5 C182.28,116.68 183.1,115.93 183.7,115 C184.3,114.07 184.67,113 185.1,111.9 C185.53,110.8 185.95,109.43 186.3,108.4 C186.65,107.37 186.77,106.58 187.2,105.7 C187.63,104.82 188.22,103.78 188.9,103.1 C189.58,102.42 190.22,102.13 191.3,101.6 C192.38,101.07 193.95,100.57 195.4,99.9 C196.85,99.23 198.4,98.33 200,97.6 C201.6,96.87 203.43,96.23 205,95.5 C206.57,94.77 207.4,94.15 209.4,93.2 C211.4,92.25 214.48,90.93 217,89.8 C219.52,88.67 222.83,87.15 224.5,86.4 C226.17,85.65 226.58,85.48 227,85.3" fill="none" stroke="#5bbb9b" stroke-width="2.1" stroke-linecap="round" stroke-dasharray="0 2.1"/>
<path d="M139.6,136.6 C142.82,135.7 152.33,133.15 158.9,131.2 C165.47,129.25 174.32,126.53 179,124.9 C183.68,123.27 184.92,122.45 187,121.4 C189.08,120.35 190.3,119.6 191.5,118.6 C192.7,117.6 193.27,116.43 194.2,115.4 C195.13,114.37 196.32,113.38 197.1,112.4 C197.88,111.42 198.42,110.85 198.9,109.5 C199.38,108.15 199.62,105.85 200,104.3 C200.38,102.75 200.8,101.47 201.2,100.2 C201.6,98.93 201.92,97.85 202.4,96.7 C202.88,95.55 202.93,94.3 204.1,93.3 C205.27,92.3 207.52,91.58 209.4,90.7 C211.28,89.82 213.77,88.7 215.4,88 C217.03,87.3 218.1,86.95 219.2,86.5 C220.3,86.05 221.53,85.5 222,85.3" fill="none" stroke="#bfe08d" stroke-width="1.0" stroke-linejoin="round" stroke-linecap="round" />
<path d="M139.6,136.6 C142.82,135.7 152.33,133.15 158.9,131.2 C165.47,129.25 174.32,126.53 179,124.9 C183.68,123.27 184.92,122.45 187,121.4 C189.08,120.35 190.3,119.6 191.5,118.6 C192.7,117.6 193.27,116.43 194.2,115.4 C195.13,114.37 196.32,113.38 197.1,112.4 C197.88,111.42 198.42,110.85 198.9,109.5 C199.38,108.15 199.62,105.85 200,104.3 C200.38,102.75 200.8,101.47 201.2,100.2 C201.6,98.93 201.92,97.85 202.4,96.7 C202.88,95.55 202.93,94.3 204.1,93.3 C205.27,92.3 207.52,91.58 209.4,90.7 C211.28,89.82 213.77,88.7 215.4,88 C217.03,87.3 218.1,86.95 219.2,86.5 C220.3,86.05 221.53,85.5 222,85.3" fill="none" stroke="#bfe08d" stroke-width="2.1" stroke-linecap="round" stroke-dasharray="0 2.1"/>
<path d="M139.6,140.9 C141.17,140.5 145.78,139.33 149,138.5 C152.22,137.67 155.58,136.83 158.9,135.9 C162.22,134.97 165.55,133.85 168.9,132.9 C172.25,131.95 175.65,131.22 179,130.2 C182.35,129.18 185.83,128.02 189,126.8 C192.17,125.58 195.48,123.93 198,122.9 C200.52,121.87 202.08,121.73 204.1,120.6 C206.12,119.47 208.65,117.23 210.1,116.1 C211.55,114.97 212.1,114.88 212.8,113.8 C213.5,112.72 213.8,111.55 214.3,109.6 C214.8,107.65 215.23,104.05 215.8,102.1 C216.37,100.15 217,99.05 217.7,97.9 C218.4,96.75 218.98,96.08 220,95.2 C221.02,94.32 222.42,93.55 223.8,92.6 C225.18,91.65 226.67,90.52 228.3,89.5 C229.93,88.48 232.48,87.12 233.6,86.5 C234.72,85.88 234.77,85.92 235,85.8" fill="none" stroke="#fcb262" stroke-width="1.0" stroke-linejoin="round" stroke-linecap="round" />
<path d="M139.6,140.9 C141.17,140.5 145.78,139.33 149,138.5 C152.22,137.67 155.58,136.83 158.9,135.9 C162.22,134.97 165.55,133.85 168.9,132.9 C172.25,131.95 175.65,131.22 179,130.2 C182.35,129.18 185.83,128.02 189,126.8 C192.17,125.58 195.48,123.93 198,122.9 C200.52,121.87 202.08,121.73 204.1,120.6 C206.12,119.47 208.65,117.23 210.1,116.1 C211.55,114.97 212.1,114.88 212.8,113.8 C213.5,112.72 213.8,111.55 214.3,109.6 C214.8,107.65 215.23,104.05 215.8,102.1 C216.37,100.15 217,99.05 217.7,97.9 C218.4,96.75 218.98,96.08 220,95.2 C221.02,94.32 222.42,93.55 223.8,92.6 C225.18,91.65 226.67,90.52 228.3,89.5 C229.93,88.48 232.48,87.12 233.6,86.5 C234.72,85.88 234.77,85.92 235,85.8" fill="none" stroke="#fcb262" stroke-width="2.1" stroke-linecap="round" stroke-dasharray="0 2.1"/>
<path d="M139.6,138 C141.17,137.53 145.78,136.12 149,135.2 C152.22,134.28 155.58,133.5 158.9,132.5 C162.22,131.5 165.55,130.25 168.9,129.2 C172.25,128.15 175.73,127.2 179,126.2 C182.27,125.2 185.33,124.5 188.5,123.2 C191.67,121.9 195.92,119.65 198,118.4 C200.08,117.15 199.87,116.78 201,115.7 C202.13,114.62 203.85,113.23 204.8,111.9 C205.75,110.57 206.18,109.28 206.7,107.7 C207.22,106.12 207.58,103.97 207.9,102.4 C208.22,100.83 208.1,99.62 208.6,98.3 C209.1,96.98 210.13,95.52 210.9,94.5 C211.67,93.48 212.18,93.03 213.2,92.2 C214.22,91.37 215.62,90.32 217,89.5 C218.38,88.68 220.12,87.87 221.5,87.3 C222.88,86.73 224.38,86.43 225.3,86.1 C226.22,85.77 226.72,85.43 227,85.3" fill="none" stroke="#e8523b" stroke-width="1.0" stroke-linejoin="round" stroke-linecap="round" />
<path d="M139.6,138 C141.17,137.53 145.78,136.12 149,135.2 C152.22,134.28 155.58,133.5 158.9,132.5 C162.22,131.5 165.55,130.25 168.9,129.2 C172.25,128.15 175.73,127.2 179,126.2 C182.27,125.2 185.33,124.5 188.5,123.2 C191.67,121.9 195.92,119.65 198,118.4 C200.08,117.15 199.87,116.78 201,115.7 C202.13,114.62 203.85,113.23 204.8,111.9 C205.75,110.57 206.18,109.28 206.7,107.7 C207.22,106.12 207.58,103.97 207.9,102.4 C208.22,100.83 208.1,99.62 208.6,98.3 C209.1,96.98 210.13,95.52 210.9,94.5 C211.67,93.48 212.18,93.03 213.2,92.2 C214.22,91.37 215.62,90.32 217,89.5 C218.38,88.68 220.12,87.87 221.5,87.3 C222.88,86.73 224.38,86.43 225.3,86.1 C226.22,85.77 226.72,85.43 227,85.3" fill="none" stroke="#e8523b" stroke-width="2.1" stroke-linecap="round" stroke-dasharray="0 2.1"/>
</g>
<line x1="139.5" y1="85.5" x2="234.5" y2="85.5" stroke="#111" stroke-width="1" />
<line x1="139.5" y1="85" x2="139.5" y2="181" stroke="#111" stroke-width="1" />
<line x1="139.5" y1="180.5" x2="234.5" y2="180.5" stroke="#111" stroke-width="1" />
<line x1="234.5" y1="85" x2="234.5" y2="181" stroke="#ad1a5a" stroke-width="1" />
<line x1="149" y1="180.5" x2="149" y2="178" stroke="#111" stroke-width="1" />
<text x="149" y="192.1" font-size="11.9" text-anchor="middle" fill="#1a1a1a" >30</text>
<line x1="168" y1="180.5" x2="168" y2="178" stroke="#111" stroke-width="1" />
<text x="168" y="192.1" font-size="11.9" text-anchor="middle" fill="#1a1a1a" >40</text>
<line x1="187" y1="180.5" x2="187" y2="178" stroke="#111" stroke-width="1" />
<text x="187" y="192.1" font-size="11.9" text-anchor="middle" fill="#1a1a1a" >50</text>
<line x1="206" y1="180.5" x2="206" y2="178" stroke="#111" stroke-width="1" />
<text x="206" y="192.1" font-size="11.9" text-anchor="middle" fill="#1a1a1a" >60</text>
<line x1="225" y1="180.5" x2="225" y2="178" stroke="#111" stroke-width="1" />
<text x="225" y="192.1" font-size="11.9" text-anchor="middle" fill="#1a1a1a" >70</text>
<line x1="158.5" y1="180.5" x2="158.5" y2="179" stroke="#111" stroke-width="1" />
<line x1="177.5" y1="180.5" x2="177.5" y2="179" stroke="#111" stroke-width="1" />
<line x1="196.5" y1="180.5" x2="196.5" y2="179" stroke="#111" stroke-width="1" />
<line x1="215.5" y1="180.5" x2="215.5" y2="179" stroke="#111" stroke-width="1" />
<line x1="234.5" y1="180.5" x2="234.5" y2="179" stroke="#111" stroke-width="1" />
<line x1="139.5" y1="180.5" x2="142" y2="180.5" stroke="#111" stroke-width="1" />
<text x="137" y="184.5" font-size="11.9" text-anchor="end" fill="#1a1a1a" >0</text>
<line x1="139.5" y1="153.36" x2="142" y2="153.36" stroke="#111" stroke-width="1" />
<text x="137" y="157.36" font-size="11.9" text-anchor="end" fill="#1a1a1a" >1000</text>
<line x1="139.5" y1="126.21" x2="142" y2="126.21" stroke="#111" stroke-width="1" />
<text x="137" y="130.21" font-size="11.9" text-anchor="end" fill="#1a1a1a" >2000</text>
<line x1="139.5" y1="99.07" x2="142" y2="99.07" stroke="#111" stroke-width="1" />
<text x="137" y="103.07" font-size="11.9" text-anchor="end" fill="#1a1a1a" >3000</text>
<line x1="139.5" y1="166.93" x2="141" y2="166.93" stroke="#111" stroke-width="1" />
<line x1="139.5" y1="139.79" x2="141" y2="139.79" stroke="#111" stroke-width="1" />
<line x1="139.5" y1="112.64" x2="141" y2="112.64" stroke="#111" stroke-width="1" />
<line x1="139.5" y1="85.5" x2="141" y2="85.5" stroke="#111" stroke-width="1" />
<line x1="234.5" y1="171" x2="232" y2="171" stroke="#ad1a5a" stroke-width="1" />
<text x="236.6" y="175.1" font-size="11.9" text-anchor="start" fill="#ad1a5a" >0.06</text>
<line x1="234.5" y1="152" x2="232" y2="152" stroke="#ad1a5a" stroke-width="1" />
<text x="236.6" y="156.1" font-size="11.9" text-anchor="start" fill="#ad1a5a" >0.08</text>
<line x1="234.5" y1="133" x2="232" y2="133" stroke="#ad1a5a" stroke-width="1" />
<text x="236.6" y="137.1" font-size="11.9" text-anchor="start" fill="#ad1a5a" >0.10</text>
<line x1="234.5" y1="114" x2="232" y2="114" stroke="#ad1a5a" stroke-width="1" />
<text x="236.6" y="118.1" font-size="11.9" text-anchor="start" fill="#ad1a5a" >0.12</text>
<line x1="234.5" y1="95" x2="232" y2="95" stroke="#ad1a5a" stroke-width="1" />
<text x="236.6" y="99.1" font-size="11.9" text-anchor="start" fill="#ad1a5a" >0.14</text>
<line x1="234.5" y1="180.5" x2="233" y2="180.5" stroke="#ad1a5a" stroke-width="1" />
<line x1="234.5" y1="161.5" x2="233" y2="161.5" stroke="#ad1a5a" stroke-width="1" />
<line x1="234.5" y1="142.5" x2="233" y2="142.5" stroke="#ad1a5a" stroke-width="1" />
<line x1="234.5" y1="123.5" x2="233" y2="123.5" stroke="#ad1a5a" stroke-width="1" />
<line x1="234.5" y1="104.5" x2="233" y2="104.5" stroke="#ad1a5a" stroke-width="1" />
<line x1="234.5" y1="85.5" x2="233" y2="85.5" stroke="#ad1a5a" stroke-width="1" />
<text x="173.8" y="209" font-size="13" text-anchor="start" fill="#1a1a1a" ><tspan font-style="italic">T</tspan> (<tspan font-size="9" dy="-5">o</tspan><tspan dy="5">C)</tspan></text>
<text transform="translate(267.8,132.4) rotate(-90)" font-size="14" text-anchor="middle" fill="#ad1a5a">tan<tspan font-style="italic">δ</tspan></text>
<text transform="translate(109.2,133.5) rotate(-90)" font-size="13" text-anchor="middle" fill="#1a1a1a"><tspan font-style="italic">ε</tspan><tspan font-size="8.5" dy="3">r</tspan></text>
<defs><radialGradient id="gl" cx="0.45" cy="0.4" r="0.62" fx="0.38" fy="0.32"><stop offset="0" stop-color="#ffffff"/><stop offset="0.2" stop-color="#f1f9e6"/><stop offset="0.5" stop-color="#c4e596"/><stop offset="1" stop-color="#b4dc82"/></radialGradient></defs>
<line x1="70.45" y1="268.5" x2="70.45" y2="487.5" stroke="#e6e6e6" stroke-width="0.9" />
<line x1="90.75" y1="268.5" x2="90.75" y2="487.5" stroke="#e6e6e6" stroke-width="0.9" />
<line x1="111.05" y1="268.5" x2="111.05" y2="487.5" stroke="#e6e6e6" stroke-width="0.9" />
<line x1="131.35" y1="268.5" x2="131.35" y2="487.5" stroke="#e6e6e6" stroke-width="0.9" />
<line x1="151.65" y1="268.5" x2="151.65" y2="487.5" stroke="#e6e6e6" stroke-width="0.9" />
<line x1="171.95" y1="268.5" x2="171.95" y2="487.5" stroke="#e6e6e6" stroke-width="0.9" />
<line x1="192.25" y1="268.5" x2="192.25" y2="487.5" stroke="#e6e6e6" stroke-width="0.9" />
<line x1="212.55" y1="268.5" x2="212.55" y2="487.5" stroke="#e6e6e6" stroke-width="0.9" />
<line x1="232.85" y1="268.5" x2="232.85" y2="487.5" stroke="#e6e6e6" stroke-width="0.9" />
<line x1="50.5" y1="473.81" x2="253.5" y2="473.81" stroke="#e6e6e6" stroke-width="0.9" />
<line x1="50.5" y1="460.12" x2="253.5" y2="460.12" stroke="#e6e6e6" stroke-width="0.9" />
<line x1="50.5" y1="446.44" x2="253.5" y2="446.44" stroke="#e6e6e6" stroke-width="0.9" />
<line x1="50.5" y1="432.75" x2="253.5" y2="432.75" stroke="#e6e6e6" stroke-width="0.9" />
<line x1="50.5" y1="419.06" x2="253.5" y2="419.06" stroke="#e6e6e6" stroke-width="0.9" />
<line x1="50.5" y1="405.38" x2="253.5" y2="405.38" stroke="#e6e6e6" stroke-width="0.9" />
<line x1="50.5" y1="391.69" x2="253.5" y2="391.69" stroke="#e6e6e6" stroke-width="0.9" />
<line x1="50.5" y1="378" x2="253.5" y2="378" stroke="#e6e6e6" stroke-width="0.9" />
<line x1="50.5" y1="364.31" x2="253.5" y2="364.31" stroke="#e6e6e6" stroke-width="0.9" />
<line x1="50.5" y1="350.62" x2="253.5" y2="350.62" stroke="#e6e6e6" stroke-width="0.9" />
<line x1="50.5" y1="336.94" x2="253.5" y2="336.94" stroke="#e6e6e6" stroke-width="0.9" />
<line x1="50.5" y1="323.25" x2="253.5" y2="323.25" stroke="#e6e6e6" stroke-width="0.9" />
<line x1="50.5" y1="309.56" x2="253.5" y2="309.56" stroke="#e6e6e6" stroke-width="0.9" />
<line x1="50.5" y1="295.88" x2="253.5" y2="295.88" stroke="#e6e6e6" stroke-width="0.9" />
<line x1="50.5" y1="282.19" x2="253.5" y2="282.19" stroke="#e6e6e6" stroke-width="0.9" />
<path d="M70.45,316.9 L111.05,321.61 L151.65,319.97 L192.25,321.61 L232.85,323.25" fill="none" stroke="#e8523b" stroke-width="1.55" stroke-linejoin="round" stroke-linecap="round" />
<path d="M70.45,340.22 L111.05,365.19 L151.65,370.55 L192.25,373.07 L232.85,385.67" fill="none" stroke="#3a62ad" stroke-width="1.55" stroke-linejoin="round" stroke-linecap="round" />
<path d="M70.45,364.5 L111.05,412.68 L151.65,432.38 L192.25,446.99 L232.85,446.62" fill="none" stroke="#fcb262" stroke-width="1.55" stroke-linejoin="round" stroke-linecap="round" />
<path d="M70.45,406.14 L111.05,405.81 L151.65,402.75 L192.25,400.61 L232.85,397.87" fill="none" stroke="#bfe08d" stroke-width="1.55" stroke-linejoin="round" stroke-linecap="round" />
<path d="M70.45,465.38 L111.05,460.51 L151.65,456.79 L192.25,454.6 L232.85,452.9" fill="none" stroke="#5bbb9b" stroke-width="1.55" stroke-linejoin="round" stroke-linecap="round" />
<circle cx="70.45" cy="316.9" r="3.4" fill="#e8523b" stroke="#fff" stroke-width="1.6" paint-order="stroke"/>
<circle cx="111.05" cy="321.61" r="3.4" fill="#e8523b" stroke="#fff" stroke-width="1.6" paint-order="stroke"/>
<circle cx="151.65" cy="319.97" r="3.4" fill="#e8523b" stroke="#fff" stroke-width="1.6" paint-order="stroke"/>
<circle cx="192.25" cy="321.61" r="3.4" fill="#e8523b" stroke="#fff" stroke-width="1.6" paint-order="stroke"/>
<circle cx="232.85" cy="323.25" r="3.4" fill="#e8523b" stroke="#fff" stroke-width="1.6" paint-order="stroke"/>
<polygon points="70.45,336.82 73.97,339.38 72.62,343.52 68.28,343.52 66.93,339.38" fill="#3a62ad" stroke="#fff" stroke-width="1.6" paint-order="stroke" stroke-linejoin="round"/>
<polygon points="111.05,361.79 114.57,364.35 113.22,368.48 108.88,368.48 107.53,364.35" fill="#3a62ad" stroke="#fff" stroke-width="1.6" paint-order="stroke" stroke-linejoin="round"/>
<polygon points="151.65,367.15 155.17,369.71 153.82,373.85 149.48,373.85 148.13,369.71" fill="#3a62ad" stroke="#fff" stroke-width="1.6" paint-order="stroke" stroke-linejoin="round"/>
<polygon points="192.25,369.67 195.77,372.23 194.42,376.37 190.08,376.37 188.73,372.23" fill="#3a62ad" stroke="#fff" stroke-width="1.6" paint-order="stroke" stroke-linejoin="round"/>
<polygon points="232.85,382.27 236.37,384.82 235.02,388.96 230.68,388.96 229.33,384.82" fill="#3a62ad" stroke="#fff" stroke-width="1.6" paint-order="stroke" stroke-linejoin="round"/>
<polygon points="70.45,360.54 74.23,364.5 70.45,368.45 66.67,364.5" fill="#fcb262" stroke="#fff" stroke-width="1.6" paint-order="stroke"/>
<polygon points="111.05,408.72 114.83,412.68 111.05,416.63 107.27,412.68" fill="#fcb262" stroke="#fff" stroke-width="1.6" paint-order="stroke"/>
<polygon points="151.65,428.43 155.43,432.38 151.65,436.34 147.87,432.38" fill="#fcb262" stroke="#fff" stroke-width="1.6" paint-order="stroke"/>
<polygon points="192.25,443.03 196.03,446.99 192.25,450.94 188.47,446.99" fill="#fcb262" stroke="#fff" stroke-width="1.6" paint-order="stroke"/>
<polygon points="232.85,442.66 236.63,446.62 232.85,450.58 229.07,446.62" fill="#fcb262" stroke="#fff" stroke-width="1.6" paint-order="stroke"/>
<circle cx="70.45" cy="406.14" r="3.6" fill="url(#gl)" stroke="#fff" stroke-width="1.6" paint-order="stroke"/>
<circle cx="111.05" cy="405.81" r="3.6" fill="url(#gl)" stroke="#fff" stroke-width="1.6" paint-order="stroke"/>
<circle cx="151.65" cy="402.75" r="3.6" fill="url(#gl)" stroke="#fff" stroke-width="1.6" paint-order="stroke"/>
<circle cx="192.25" cy="400.61" r="3.6" fill="url(#gl)" stroke="#fff" stroke-width="1.6" paint-order="stroke"/>
<circle cx="232.85" cy="397.87" r="3.6" fill="url(#gl)" stroke="#fff" stroke-width="1.6" paint-order="stroke"/>
<polygon points="70.45,461.48 73.83,463.43 73.83,467.33 70.45,469.28 67.07,467.33 67.07,463.43" fill="#5bbb9b" stroke="#fff" stroke-width="1.6" paint-order="stroke"/>
<polygon points="111.05,456.61 114.43,458.56 114.43,462.46 111.05,464.41 107.67,462.46 107.67,458.56" fill="#5bbb9b" stroke="#fff" stroke-width="1.6" paint-order="stroke"/>
<polygon points="151.65,452.89 155.03,454.84 155.03,458.74 151.65,460.69 148.27,458.74 148.27,454.84" fill="#5bbb9b" stroke="#fff" stroke-width="1.6" paint-order="stroke"/>
<polygon points="192.25,450.7 195.63,452.65 195.63,456.55 192.25,458.5 188.87,456.55 188.87,452.65" fill="#5bbb9b" stroke="#fff" stroke-width="1.6" paint-order="stroke"/>
<polygon points="232.85,449 236.23,450.95 236.23,454.85 232.85,456.8 229.47,454.85 229.47,450.95" fill="#5bbb9b" stroke="#fff" stroke-width="1.6" paint-order="stroke"/>
<line x1="50.5" y1="268.5" x2="253.5" y2="268.5" stroke="#474747" stroke-width="1" />
<line x1="50.5" y1="268" x2="50.5" y2="488" stroke="#474747" stroke-width="1" />
<line x1="50.5" y1="487.5" x2="253.5" y2="487.5" stroke="#474747" stroke-width="1" />
<line x1="253.5" y1="268" x2="253.5" y2="488" stroke="#8aa3d3" stroke-width="1" />
<line x1="296" y1="268.5" x2="296" y2="487.5" stroke="#fcc98a" stroke-width="1" />
<line x1="70.45" y1="487.5" x2="70.45" y2="484" stroke="#474747" stroke-width="1" />
<text x="70.45" y="501.8" font-size="13" text-anchor="middle" fill="#1a1a1a" >0</text>
<line x1="111.05" y1="487.5" x2="111.05" y2="484" stroke="#474747" stroke-width="1" />
<text x="111.05" y="501.8" font-size="13" text-anchor="middle" fill="#1a1a1a" >0.05%</text>
<line x1="151.65" y1="487.5" x2="151.65" y2="484" stroke="#474747" stroke-width="1" />
<text x="151.65" y="501.8" font-size="13" text-anchor="middle" fill="#1a1a1a" >0.1%</text>
<line x1="192.25" y1="487.5" x2="192.25" y2="484" stroke="#474747" stroke-width="1" />
<text x="192.25" y="501.8" font-size="13" text-anchor="middle" fill="#1a1a1a" >0.15%</text>
<line x1="232.85" y1="487.5" x2="232.85" y2="484" stroke="#474747" stroke-width="1" />
<text x="232.85" y="501.8" font-size="13" text-anchor="middle" fill="#1a1a1a" >0.2%</text>
<line x1="90.75" y1="487.5" x2="90.75" y2="485.5" stroke="#474747" stroke-width="1" />
<line x1="131.35" y1="487.5" x2="131.35" y2="485.5" stroke="#474747" stroke-width="1" />
<line x1="171.95" y1="487.5" x2="171.95" y2="485.5" stroke="#474747" stroke-width="1" />
<line x1="212.55" y1="487.5" x2="212.55" y2="485.5" stroke="#474747" stroke-width="1" />
<line x1="50.5" y1="487.5" x2="54" y2="487.5" stroke="#474747" stroke-width="1" />
<text x="45.5" y="491.3" font-size="13" text-anchor="end" fill="#1a1a1a" >0</text>
<line x1="50.5" y1="460.12" x2="54" y2="460.12" stroke="#474747" stroke-width="1" />
<text x="45.5" y="463.93" font-size="13" text-anchor="end" fill="#1a1a1a" >50</text>
<line x1="50.5" y1="432.75" x2="54" y2="432.75" stroke="#474747" stroke-width="1" />
<text x="45.5" y="436.55" font-size="13" text-anchor="end" fill="#1a1a1a" >100</text>
<line x1="50.5" y1="405.38" x2="54" y2="405.38" stroke="#474747" stroke-width="1" />
<text x="45.5" y="409.18" font-size="13" text-anchor="end" fill="#1a1a1a" >150</text>
<line x1="50.5" y1="378" x2="54" y2="378" stroke="#474747" stroke-width="1" />
<text x="45.5" y="381.8" font-size="13" text-anchor="end" fill="#1a1a1a" >200</text>
<line x1="50.5" y1="350.62" x2="54" y2="350.62" stroke="#474747" stroke-width="1" />
<text x="45.5" y="354.43" font-size="13" text-anchor="end" fill="#1a1a1a" >250</text>
<line x1="50.5" y1="323.25" x2="54" y2="323.25" stroke="#474747" stroke-width="1" />
<text x="45.5" y="327.05" font-size="13" text-anchor="end" fill="#1a1a1a" >300</text>
<line x1="50.5" y1="295.88" x2="54" y2="295.88" stroke="#474747" stroke-width="1" />
<text x="45.5" y="299.68" font-size="13" text-anchor="end" fill="#1a1a1a" >350</text>
<line x1="50.5" y1="268.5" x2="54" y2="268.5" stroke="#474747" stroke-width="1" />
<text x="45.5" y="272.3" font-size="13" text-anchor="end" fill="#1a1a1a" >400</text>
<line x1="50.5" y1="473.81" x2="52.5" y2="473.81" stroke="#474747" stroke-width="1" />
<line x1="50.5" y1="446.44" x2="52.5" y2="446.44" stroke="#474747" stroke-width="1" />
<line x1="50.5" y1="419.06" x2="52.5" y2="419.06" stroke="#474747" stroke-width="1" />
<line x1="50.5" y1="391.69" x2="52.5" y2="391.69" stroke="#474747" stroke-width="1" />
<line x1="50.5" y1="364.31" x2="52.5" y2="364.31" stroke="#474747" stroke-width="1" />
<line x1="50.5" y1="336.94" x2="52.5" y2="336.94" stroke="#474747" stroke-width="1" />
<line x1="50.5" y1="309.56" x2="52.5" y2="309.56" stroke="#474747" stroke-width="1" />
<line x1="50.5" y1="282.19" x2="52.5" y2="282.19" stroke="#474747" stroke-width="1" />
<line x1="253.5" y1="487.5" x2="250" y2="487.5" stroke="#8aa3d3" stroke-width="1" />
<text x="257.5" y="491.3" font-size="13" text-anchor="start" fill="#3a62ad" >500</text>
<line x1="253.5" y1="432.75" x2="250" y2="432.75" stroke="#8aa3d3" stroke-width="1" />
<text x="257.5" y="436.55" font-size="13" text-anchor="start" fill="#3a62ad" >1000</text>
<line x1="253.5" y1="378" x2="250" y2="378" stroke="#8aa3d3" stroke-width="1" />
<text x="257.5" y="381.8" font-size="13" text-anchor="start" fill="#3a62ad" >1500</text>
<line x1="253.5" y1="323.25" x2="250" y2="323.25" stroke="#8aa3d3" stroke-width="1" />
<text x="257.5" y="327.05" font-size="13" text-anchor="start" fill="#3a62ad" >2000</text>
<line x1="253.5" y1="268.5" x2="250" y2="268.5" stroke="#8aa3d3" stroke-width="1" />
<text x="257.5" y="272.3" font-size="13" text-anchor="start" fill="#3a62ad" >2500</text>
<line x1="253.5" y1="460.12" x2="251.5" y2="460.12" stroke="#8aa3d3" stroke-width="1" />
<line x1="253.5" y1="405.38" x2="251.5" y2="405.38" stroke="#8aa3d3" stroke-width="1" />
<line x1="253.5" y1="350.62" x2="251.5" y2="350.62" stroke="#8aa3d3" stroke-width="1" />
<line x1="253.5" y1="295.88" x2="251.5" y2="295.88" stroke="#8aa3d3" stroke-width="1" />
<line x1="296" y1="487.5" x2="299.5" y2="487.5" stroke="#fcc98a" stroke-width="1" />
<text x="302.4" y="491.3" font-size="13" text-anchor="start" fill="#fcb262" >0.04</text>
<line x1="296" y1="451" x2="299.5" y2="451" stroke="#fcc98a" stroke-width="1" />
<text x="302.4" y="454.8" font-size="13" text-anchor="start" fill="#fcb262" >0.05</text>
<line x1="296" y1="414.5" x2="299.5" y2="414.5" stroke="#fcc98a" stroke-width="1" />
<text x="302.4" y="418.3" font-size="13" text-anchor="start" fill="#fcb262" >0.06</text>
<line x1="296" y1="378" x2="299.5" y2="378" stroke="#fcc98a" stroke-width="1" />
<text x="302.4" y="381.8" font-size="13" text-anchor="start" fill="#fcb262" >0.07</text>
<line x1="296" y1="341.5" x2="299.5" y2="341.5" stroke="#fcc98a" stroke-width="1" />
<text x="302.4" y="345.3" font-size="13" text-anchor="start" fill="#fcb262" >0.08</text>
<line x1="296" y1="305" x2="299.5" y2="305" stroke="#fcc98a" stroke-width="1" />
<text x="302.4" y="308.8" font-size="13" text-anchor="start" fill="#fcb262" >0.09</text>
<line x1="296" y1="268.5" x2="299.5" y2="268.5" stroke="#fcc98a" stroke-width="1" />
<text x="302.4" y="272.3" font-size="13" text-anchor="start" fill="#fcb262" >0.10</text>
<line x1="296" y1="469.25" x2="298" y2="469.25" stroke="#fcc98a" stroke-width="1" />
<line x1="296" y1="432.75" x2="298" y2="432.75" stroke="#fcc98a" stroke-width="1" />
<line x1="296" y1="396.25" x2="298" y2="396.25" stroke="#fcc98a" stroke-width="1" />
<line x1="296" y1="359.75" x2="298" y2="359.75" stroke="#fcc98a" stroke-width="1" />
<line x1="296" y1="323.25" x2="298" y2="323.25" stroke="#fcc98a" stroke-width="1" />
<line x1="296" y1="286.75" x2="298" y2="286.75" stroke="#fcc98a" stroke-width="1" />
<text x="5.3" y="285.1" font-size="18" text-anchor="start" fill="#1a1a1a" >(b)</text>
<text x="76.9" y="522.3" font-size="16.8" text-anchor="start" fill="#1a1a1a" >Content of GaN (wt)</text>
<text transform="translate(21.6,372.2) rotate(-90)" font-size="16.8" text-anchor="middle" fill="#1a1a1a"><tspan font-style="italic">T</tspan> (<tspan font-size="11" dy="-6">o</tspan><tspan dy="6">C)</tspan></text>
<text transform="translate(286.9,363.2) rotate(-90)" font-size="15" text-anchor="middle" fill="#3a62ad"><tspan font-style="italic">ε</tspan><tspan font-size="9.5" font-style="italic" dy="3">r</tspan></text>
<text transform="translate(340.1,375.1) rotate(-90)" font-size="17" text-anchor="middle" fill="#fcb262">tan<tspan font-style="italic">δ</tspan></text>
<line x1="72.4" y1="278.3" x2="74.7" y2="278.3" stroke="#e8523b" stroke-width="1.2" />
<line x1="83.1" y1="278.3" x2="85.4" y2="278.3" stroke="#e8523b" stroke-width="1.2" />
<circle cx="78.9" cy="278.3" r="3.5" fill="#e8523b" stroke="#fff" stroke-width="1.6" paint-order="stroke"/>
<text x="91.9" y="282.9" font-size="13" text-anchor="start" fill="#1a1a1a" ><tspan font-style="italic">T</tspan><tspan font-size="9" dy="3">m</tspan></text>
<line x1="133.1" y1="278.3" x2="135.4" y2="278.3" stroke="#5bbb9b" stroke-width="1.2" />
<line x1="143.8" y1="278.3" x2="146.1" y2="278.3" stroke="#5bbb9b" stroke-width="1.2" />
<polygon points="139.6,274.8 142.63,276.55 142.63,280.05 139.6,281.8 136.57,280.05 136.57,276.55" fill="#5bbb9b" stroke="#fff" stroke-width="1.6" paint-order="stroke"/>
<text x="152.6" y="282.9" font-size="13" text-anchor="start" fill="#1a1a1a" ><tspan font-style="italic">T</tspan><tspan font-size="9" dy="3">FR</tspan></text>
<line x1="200" y1="278.3" x2="202.3" y2="278.3" stroke="#bfe08d" stroke-width="1.2" />
<line x1="210.7" y1="278.3" x2="213" y2="278.3" stroke="#bfe08d" stroke-width="1.2" />
<circle cx="206.5" cy="278.3" r="3.5" fill="url(#gl)" stroke="#fff" stroke-width="1.6" paint-order="stroke"/>
<text x="217.6" y="282.9" font-size="13" text-anchor="start" fill="#1a1a1a" ><tspan font-style="italic">T</tspan><tspan font-size="9" dy="3">S</tspan></text>
<line x1="72.4" y1="297.7" x2="74.7" y2="297.7" stroke="#3a62ad" stroke-width="1.2" />
<line x1="83.1" y1="297.7" x2="85.4" y2="297.7" stroke="#3a62ad" stroke-width="1.2" />
<polygon points="78.9,294.5 82.23,296.92 80.96,300.83 76.84,300.83 75.57,296.92" fill="#3a62ad" stroke="#fff" stroke-width="1.6" paint-order="stroke" stroke-linejoin="round"/>
<text x="91.9" y="302.3" font-size="13" text-anchor="start" fill="#1a1a1a" ><tspan font-style="italic">ε</tspan><tspan font-size="9" font-style="italic" dy="3">r</tspan></text>
<line x1="133.1" y1="297.7" x2="135.4" y2="297.7" stroke="#fcb262" stroke-width="1.2" />
<line x1="143.8" y1="297.7" x2="146.1" y2="297.7" stroke="#fcb262" stroke-width="1.2" />
<polygon points="139.6,293.85 143.28,297.7 139.6,301.55 135.92,297.7" fill="#fcb262" stroke="#fff" stroke-width="1.6" paint-order="stroke"/>
<text x="152.6" y="302.3" font-size="13" text-anchor="start" fill="#1a1a1a" ><tspan font-style="italic">tanδ</tspan></text>
<line x1="401.5" y1="8.5" x2="401.5" y2="227.5" stroke="#e6e6e6" stroke-width="0.9" />
<line x1="417.5" y1="8.5" x2="417.5" y2="227.5" stroke="#e6e6e6" stroke-width="0.9" />
<line x1="433.5" y1="8.5" x2="433.5" y2="227.5" stroke="#e6e6e6" stroke-width="0.9" />
<line x1="449.5" y1="8.5" x2="449.5" y2="227.5" stroke="#e6e6e6" stroke-width="0.9" />
<line x1="465.5" y1="8.5" x2="465.5" y2="227.5" stroke="#e6e6e6" stroke-width="0.9" />
<line x1="481.5" y1="8.5" x2="481.5" y2="227.5" stroke="#e6e6e6" stroke-width="0.9" />
<line x1="497.5" y1="8.5" x2="497.5" y2="227.5" stroke="#e6e6e6" stroke-width="0.9" />
<line x1="513.5" y1="8.5" x2="513.5" y2="227.5" stroke="#e6e6e6" stroke-width="0.9" />
<line x1="529.5" y1="8.5" x2="529.5" y2="227.5" stroke="#e6e6e6" stroke-width="0.9" />
<line x1="545.5" y1="8.5" x2="545.5" y2="227.5" stroke="#e6e6e6" stroke-width="0.9" />
<line x1="561.5" y1="8.5" x2="561.5" y2="227.5" stroke="#e6e6e6" stroke-width="0.9" />
<line x1="577.5" y1="8.5" x2="577.5" y2="227.5" stroke="#e6e6e6" stroke-width="0.9" />
<line x1="593.5" y1="8.5" x2="593.5" y2="227.5" stroke="#e6e6e6" stroke-width="0.9" />
<line x1="609.5" y1="8.5" x2="609.5" y2="227.5" stroke="#e6e6e6" stroke-width="0.9" />
<line x1="625.5" y1="8.5" x2="625.5" y2="227.5" stroke="#e6e6e6" stroke-width="0.9" />
<line x1="641.5" y1="8.5" x2="641.5" y2="227.5" stroke="#e6e6e6" stroke-width="0.9" />
<line x1="657.5" y1="8.5" x2="657.5" y2="227.5" stroke="#e6e6e6" stroke-width="0.9" />
<line x1="385.5" y1="215.33" x2="673.5" y2="215.33" stroke="#e6e6e6" stroke-width="0.9" />
<line x1="385.5" y1="203.17" x2="673.5" y2="203.17" stroke="#e6e6e6" stroke-width="0.9" />
<line x1="385.5" y1="191" x2="673.5" y2="191" stroke="#e6e6e6" stroke-width="0.9" />
<line x1="385.5" y1="178.83" x2="673.5" y2="178.83" stroke="#e6e6e6" stroke-width="0.9" />
<line x1="385.5" y1="166.67" x2="673.5" y2="166.67" stroke="#e6e6e6" stroke-width="0.9" />
<line x1="385.5" y1="154.5" x2="673.5" y2="154.5" stroke="#e6e6e6" stroke-width="0.9" />
<line x1="385.5" y1="142.33" x2="673.5" y2="142.33" stroke="#e6e6e6" stroke-width="0.9" />
<line x1="385.5" y1="130.17" x2="673.5" y2="130.17" stroke="#e6e6e6" stroke-width="0.9" />
<line x1="385.5" y1="118" x2="673.5" y2="118" stroke="#e6e6e6" stroke-width="0.9" />
<line x1="385.5" y1="105.83" x2="673.5" y2="105.83" stroke="#e6e6e6" stroke-width="0.9" />
<line x1="385.5" y1="93.67" x2="673.5" y2="93.67" stroke="#e6e6e6" stroke-width="0.9" />
<line x1="385.5" y1="81.5" x2="673.5" y2="81.5" stroke="#e6e6e6" stroke-width="0.9" />
<line x1="385.5" y1="69.33" x2="673.5" y2="69.33" stroke="#e6e6e6" stroke-width="0.9" />
<line x1="385.5" y1="57.17" x2="673.5" y2="57.17" stroke="#e6e6e6" stroke-width="0.9" />
<line x1="385.5" y1="45" x2="673.5" y2="45" stroke="#e6e6e6" stroke-width="0.9" />
<line x1="385.5" y1="32.83" x2="673.5" y2="32.83" stroke="#e6e6e6" stroke-width="0.9" />
<line x1="385.5" y1="20.67" x2="673.5" y2="20.67" stroke="#e6e6e6" stroke-width="0.9" />
<line x1="385.5" y1="118" x2="673.5" y2="118" stroke="#777" stroke-width="1" stroke-dasharray="1.2,1.2"/>
<line x1="529.5" y1="8.5" x2="529.5" y2="227.5" stroke="#222" stroke-width="1" stroke-dasharray="2,1.3"/>
<path d="M529.5,135.25 L530.31,135.23 L531.11,135.19 L531.92,135.13 L532.72,135.04 L533.53,134.94 L534.33,134.81 L535.14,134.66 L535.94,134.48 L536.75,134.28 L537.55,134.06 L538.36,133.82 L539.16,133.55 L539.97,133.26 L540.77,132.94 L541.58,132.6 L542.38,132.24 L543.19,131.85 L543.99,131.44 L544.8,131 L545.6,130.54 L546.41,130.06 L547.21,129.55 L548.02,129.02 L548.82,128.46 L549.63,127.87 L550.43,127.27 L551.24,126.63 L552.04,125.97 L552.85,125.29 L553.65,124.58 L554.46,123.84 L555.26,123.08 L556.07,122.3 L556.87,121.5 L557.68,120.67 L558.48,119.83 L559.29,118.97 L560.09,118.09 L560.9,117.2 L561.7,116.29 L562.51,115.37 L563.31,114.44 L564.12,113.49 L564.92,112.54 L565.73,111.58 L566.53,110.62 L567.34,109.65 L568.14,108.67 L568.95,107.69 L569.75,106.72 L570.56,105.74 L571.36,104.76 L572.17,103.78 L572.97,102.81 L573.78,101.84 L574.58,100.88 L575.39,99.92 L576.19,98.97 L577,98.04 L577.8,97.11 L578.61,96.2 L579.41,95.29 L580.22,94.4 L581.02,93.52 L581.83,92.65 L582.63,91.79 L583.44,90.95 L584.24,90.11 L585.05,89.29 L585.85,88.47 L586.66,87.67 L587.46,86.87 L588.27,86.09 L589.07,85.32 L589.88,84.55 L590.68,83.8 L591.49,83.06 L592.29,82.33 L593.1,81.6 L593.9,80.89 L594.71,80.18 L595.51,79.49 L596.32,78.8 L597.12,78.13 L597.93,77.46 L598.73,76.8 L599.54,76.15 L600.34,75.51 L601.15,74.88 L601.95,74.25 L602.76,73.63 L603.56,73.03 L604.37,72.43 L605.17,71.83 L605.98,71.25 L606.78,70.67 L607.59,70.1 L608.39,69.54 L609.2,68.99 L610,68.44 L610.81,67.9 L611.61,67.37 L612.42,66.84 L613.22,66.33 L614.03,65.81 L614.83,65.31 L615.64,64.81 L616.44,64.32 L617.25,63.83 L618.05,63.35 L618.86,62.88 L619.66,62.41 L620.47,61.95 L621.27,61.49 L622.08,61.04 L622.88,60.59 L623.69,60.15 L624.49,59.72 L625.3,59.29 L626.1,58.86 L626.91,58.44 L627.71,58.03 L628.52,57.62 L629.32,57.21 L630.13,56.81 L630.93,56.41 L631.74,56.02 L632.54,55.63 L633.35,55.25 L634.15,54.87 L634.96,54.49 L635.76,54.12 L636.57,53.75 L637.37,53.38 L638.18,53.02 L638.98,52.66 L639.79,52.3 L640.59,51.95 L641.4,51.6 L642.2,51.25 L643.01,50.9 L643.81,50.56 L644.62,50.22 L645.42,49.88 L646.23,49.54 L647.03,49.21 L647.84,48.88 L648.64,48.55 L649.45,48.22 L650.25,47.89 L651.06,47.57 L651.86,47.24 L652.67,46.92 L653.47,46.6 L654.28,46.28 L655.08,45.96 L655.89,45.64 L656.69,45.32 L657.5,45.01" fill="none" stroke="#3a62ad" stroke-width="1.65" stroke-linejoin="round" stroke-linecap="round" />
<path d="M401.5,190.49 L403.11,189.95 L404.72,189.39 L406.33,188.83 L407.94,188.25 L409.55,187.66 L411.16,187.05 L412.77,186.42 L414.38,185.78 L415.99,185.13 L417.6,184.45 L419.21,183.76 L420.82,183.05 L422.43,182.31 L424.04,181.56 L425.65,180.79 L427.26,179.99 L428.87,179.18 L430.48,178.34 L432.09,177.47 L433.7,176.58 L435.31,175.67 L436.92,174.73 L438.53,173.76 L440.14,172.77 L441.75,171.75 L443.36,170.7 L444.97,169.62 L446.58,168.52 L448.19,167.38 L449.8,166.21 L451.41,165.01 L453.02,163.78 L454.63,162.51 L456.24,161.21 L457.85,159.88 L459.46,158.51 L461.07,157.1 L462.68,155.66 L464.29,154.18 L465.9,152.67 L467.51,151.11 L469.12,149.52 L470.73,147.88 L472.34,146.21 L473.95,144.49 L475.56,142.74 L477.17,140.94 L478.78,139.1 L480.39,137.21 L482,135.28 L483.61,133.3 L485.22,131.29 L486.83,129.25 L488.44,127.18 L490.05,125.09 L491.66,122.98 L493.27,120.85 L494.88,118.73 L496.49,116.6 L498.1,114.48 L499.71,112.37 L501.32,110.27 L502.93,108.2 L504.54,106.15 L506.15,104.13 L507.76,102.15 L509.37,100.21 L510.98,98.32 L512.59,96.48 L514.2,94.71 L515.81,92.99 L517.42,91.33 L519.03,89.73 L520.64,88.18 L522.25,86.69 L523.86,85.26 L525.47,83.87 L527.08,82.54 L528.69,81.26 L530.31,80.02 L531.92,78.84 L533.53,77.69 L535.14,76.59 L536.75,75.54 L538.36,74.52 L539.97,73.54 L541.58,72.6 L543.19,71.7 L544.8,70.84 L546.41,70 L548.02,69.2 L549.63,68.43 L551.24,67.7 L552.85,66.98 L554.46,66.3 L556.07,65.64 L557.68,65.01 L559.29,64.39 L560.9,63.8 L562.51,63.23 L564.12,62.68 L565.73,62.14 L567.34,61.62 L568.95,61.11 L570.56,60.62 L572.17,60.13 L573.78,59.66 L575.39,59.2 L577,58.74 L578.61,58.29 L580.22,57.84 L581.83,57.41 L583.44,56.98 L585.05,56.56 L586.66,56.15 L588.27,55.74 L589.88,55.34 L591.49,54.95 L593.1,54.57 L594.71,54.19 L596.32,53.82 L597.93,53.46 L599.54,53.1 L601.15,52.76 L602.76,52.42 L604.37,52.08 L605.98,51.76 L607.59,51.44 L609.2,51.13 L610.81,50.83 L612.42,50.53 L614.03,50.24 L615.64,49.96 L617.25,49.69 L618.86,49.42 L620.47,49.16 L622.08,48.91 L623.69,48.67 L625.3,48.43 L626.91,48.2 L628.52,47.98 L630.13,47.77 L631.74,47.56 L633.35,47.36 L634.96,47.17 L636.57,46.98 L638.18,46.8 L639.79,46.63 L641.4,46.47 L643.01,46.31 L644.62,46.16 L646.23,46.02 L647.84,45.89 L649.45,45.76 L651.06,45.64 L652.67,45.53 L654.28,45.43 L655.89,45.33 L657.5,45.24" fill="none" stroke="#3a62ad" stroke-width="1.65" stroke-linejoin="round" stroke-linecap="round" />
<path d="M401.5,190.51 L402.31,190.4 L403.11,190.3 L403.92,190.19 L404.72,190.08 L405.53,189.97 L406.33,189.87 L407.14,189.76 L407.94,189.65 L408.75,189.55 L409.55,189.44 L410.36,189.34 L411.16,189.23 L411.97,189.13 L412.77,189.02 L413.58,188.92 L414.38,188.81 L415.19,188.71 L415.99,188.6 L416.8,188.5 L417.6,188.39 L418.41,188.28 L419.21,188.18 L420.02,188.07 L420.82,187.97 L421.63,187.86 L422.43,187.75 L423.24,187.65 L424.04,187.54 L424.85,187.43 L425.65,187.32 L426.46,187.21 L427.26,187.1 L428.07,186.99 L428.87,186.88 L429.68,186.77 L430.48,186.65 L431.29,186.54 L432.09,186.42 L432.9,186.31 L433.7,186.19 L434.51,186.07 L435.31,185.95 L436.12,185.83 L436.92,185.71 L437.73,185.59 L438.53,185.47 L439.34,185.34 L440.14,185.22 L440.95,185.09 L441.75,184.96 L442.56,184.83 L443.36,184.7 L444.17,184.56 L444.97,184.43 L445.78,184.29 L446.58,184.16 L447.39,184.02 L448.19,183.87 L449,183.73 L449.8,183.59 L450.61,183.44 L451.41,183.29 L452.22,183.14 L453.02,182.99 L453.83,182.83 L454.63,182.68 L455.44,182.52 L456.24,182.36 L457.05,182.2 L457.85,182.03 L458.66,181.86 L459.46,181.69 L460.27,181.52 L461.07,181.35 L461.88,181.17 L462.68,180.99 L463.49,180.81 L464.29,180.63 L465.1,180.44 L465.9,180.25 L466.71,180.06 L467.51,179.86 L468.32,179.67 L469.12,179.47 L469.93,179.26 L470.73,179.06 L471.54,178.85 L472.34,178.64 L473.15,178.42 L473.95,178.2 L474.76,177.98 L475.56,177.76 L476.37,177.53 L477.17,177.3 L477.98,177.07 L478.78,176.83 L479.59,176.59 L480.39,176.35 L481.2,176.1 L482,175.85 L482.81,175.6 L483.61,175.34 L484.42,175.08 L485.22,174.81 L486.03,174.55 L486.83,174.28 L487.64,174 L488.44,173.72 L489.25,173.44 L490.05,173.15 L490.86,172.86 L491.66,172.57 L492.47,172.27 L493.27,171.96 L494.08,171.66 L494.88,171.35 L495.69,171.03 L496.49,170.71 L497.3,170.39 L498.1,170.06 L498.91,169.73 L499.71,169.39 L500.52,169.05 L501.32,168.71 L502.13,168.36 L502.93,168 L503.74,167.65 L504.54,167.28 L505.35,166.92 L506.15,166.54 L506.96,166.17 L507.76,165.78 L508.57,165.4 L509.37,165.01 L510.18,164.61 L510.98,164.21 L511.79,163.8 L512.59,163.39 L513.4,162.98 L514.2,162.55 L515.01,162.13 L515.81,161.7 L516.62,161.26 L517.42,160.82 L518.23,160.37 L519.03,159.92 L519.84,159.46 L520.64,159 L521.45,158.53 L522.25,158.05 L523.06,157.57 L523.86,157.09 L524.67,156.6 L525.47,156.1 L526.28,155.6 L527.08,155.09 L527.89,154.58 L528.69,154.06 L529.5,153.53" fill="none" stroke="#3a62ad" stroke-width="1.65" stroke-linejoin="round" stroke-linecap="round" />
<path d="M529.5,141.09 L530.31,141.26 L531.11,141.4 L531.92,141.51 L532.72,141.58 L533.53,141.61 L534.33,141.6 L535.14,141.56 L535.94,141.48 L536.75,141.36 L537.55,141.2 L538.36,141 L539.16,140.77 L539.97,140.5 L540.77,140.19 L541.58,139.84 L542.38,139.45 L543.19,139.02 L543.99,138.55 L544.8,138.04 L545.6,137.49 L546.41,136.9 L547.21,136.27 L548.02,135.6 L548.82,134.88 L549.63,134.13 L550.43,133.33 L551.24,132.49 L552.04,131.61 L552.85,130.69 L553.65,129.72 L554.46,128.72 L555.26,127.67 L556.07,126.58 L556.87,125.46 L557.68,124.3 L558.48,123.12 L559.29,121.9 L560.09,120.66 L560.9,119.4 L561.7,118.11 L562.51,116.8 L563.31,115.48 L564.12,114.14 L564.92,112.78 L565.73,111.42 L566.53,110.05 L567.34,108.67 L568.14,107.29 L568.95,105.91 L569.75,104.53 L570.56,103.15 L571.36,101.78 L572.17,100.41 L572.97,99.06 L573.78,97.71 L574.58,96.38 L575.39,95.07 L576.19,93.78 L577,92.51 L577.8,91.26 L578.61,90.04 L579.41,88.84 L580.22,87.67 L581.02,86.52 L581.83,85.39 L582.63,84.29 L583.44,83.21 L584.24,82.15 L585.05,81.11 L585.85,80.09 L586.66,79.09 L587.46,78.12 L588.27,77.16 L589.07,76.22 L589.88,75.3 L590.68,74.4 L591.49,73.52 L592.29,72.65 L593.1,71.8 L593.9,70.97 L594.71,70.15 L595.51,69.35 L596.32,68.57 L597.12,67.8 L597.93,67.04 L598.73,66.3 L599.54,65.57 L600.34,64.85 L601.15,64.14 L601.95,63.45 L602.76,62.77 L603.56,62.1 L604.37,61.44 L605.17,60.79 L605.98,60.16 L606.78,59.53 L607.59,58.91 L608.39,58.29 L609.2,57.69 L610,57.09 L610.81,56.5 L611.61,55.92 L612.42,55.34 L613.22,54.77 L614.03,54.21 L614.83,53.65 L615.64,53.09 L616.44,52.54 L617.25,51.99 L618.05,51.44 L618.86,50.9 L619.66,50.36 L620.47,49.82 L621.27,49.28 L622.08,48.75 L622.88,48.21 L623.69,47.67 L624.49,47.14 L625.3,46.6 L626.1,46.06 L626.91,45.52 L627.71,44.98 L628.52,44.43 L629.32,43.89 L630.13,43.35 L630.93,42.8 L631.74,42.26 L632.54,41.71 L633.35,41.16 L634.15,40.62 L634.96,40.07 L635.76,39.53 L636.57,38.98 L637.37,38.44 L638.18,37.9 L638.98,37.36 L639.79,36.81 L640.59,36.27 L641.4,35.74 L642.2,35.2 L643.01,34.67 L643.81,34.13 L644.62,33.6 L645.42,33.07 L646.23,32.55 L647.03,32.02 L647.84,31.5 L648.64,30.99 L649.45,30.47 L650.25,29.96 L651.06,29.45 L651.86,28.95 L652.67,28.45 L653.47,27.95 L654.28,27.46 L655.08,26.97 L655.89,26.49 L656.69,26.01 L657.5,25.53" fill="none" stroke="#5bbb9b" stroke-width="1.65" stroke-linejoin="round" stroke-linecap="round" />
<path d="M401.5,210.19 L403.11,209.63 L404.72,209.06 L406.33,208.47 L407.94,207.86 L409.55,207.23 L411.16,206.58 L412.77,205.9 L414.38,205.21 L415.99,204.49 L417.6,203.74 L419.21,202.97 L420.82,202.17 L422.43,201.34 L424.04,200.48 L425.65,199.59 L427.26,198.66 L428.87,197.7 L430.48,196.71 L432.09,195.68 L433.7,194.61 L435.31,193.51 L436.92,192.36 L438.53,191.18 L440.14,189.95 L441.75,188.67 L443.36,187.36 L444.97,185.99 L446.58,184.58 L448.19,183.13 L449.8,181.62 L451.41,180.06 L453.02,178.45 L454.63,176.79 L456.24,175.07 L457.85,173.3 L459.46,171.47 L461.07,169.58 L462.68,167.63 L464.29,165.63 L465.9,163.56 L467.51,161.43 L469.12,159.23 L470.73,156.97 L472.34,154.65 L473.95,152.26 L475.56,149.8 L477.17,147.27 L478.78,144.66 L480.39,141.99 L482,139.24 L483.61,136.42 L485.22,133.55 L486.83,130.62 L488.44,127.65 L490.05,124.65 L491.66,121.63 L493.27,118.6 L494.88,115.57 L496.49,112.55 L498.1,109.55 L499.71,106.58 L501.32,103.64 L502.93,100.76 L504.54,97.92 L506.15,95.14 L507.76,92.42 L509.37,89.78 L510.98,87.21 L512.59,84.73 L514.2,82.35 L515.81,80.06 L517.42,77.87 L519.03,75.76 L520.64,73.75 L522.25,71.82 L523.86,69.98 L525.47,68.22 L527.08,66.53 L528.69,64.93 L530.31,63.4 L531.92,61.94 L533.53,60.54 L535.14,59.22 L536.75,57.96 L538.36,56.76 L539.97,55.62 L541.58,54.54 L543.19,53.51 L544.8,52.53 L546.41,51.61 L548.02,50.72 L549.63,49.89 L551.24,49.09 L552.85,48.34 L554.46,47.62 L556.07,46.94 L557.68,46.28 L559.29,45.66 L560.9,45.06 L562.51,44.49 L564.12,43.94 L565.73,43.41 L567.34,42.9 L568.95,42.4 L570.56,41.91 L572.17,41.44 L573.78,40.97 L575.39,40.5 L577,40.04 L578.61,39.58 L580.22,39.12 L581.83,38.67 L583.44,38.22 L585.05,37.78 L586.66,37.33 L588.27,36.9 L589.88,36.47 L591.49,36.04 L593.1,35.62 L594.71,35.2 L596.32,34.79 L597.93,34.38 L599.54,33.98 L601.15,33.59 L602.76,33.2 L604.37,32.82 L605.98,32.45 L607.59,32.08 L609.2,31.73 L610.81,31.37 L612.42,31.03 L614.03,30.7 L615.64,30.37 L617.25,30.05 L618.86,29.74 L620.47,29.44 L622.08,29.15 L623.69,28.87 L625.3,28.6 L626.91,28.33 L628.52,28.08 L630.13,27.84 L631.74,27.61 L633.35,27.39 L634.96,27.18 L636.57,26.98 L638.18,26.79 L639.79,26.62 L641.4,26.45 L643.01,26.3 L644.62,26.17 L646.23,26.04 L647.84,25.93 L649.45,25.83 L651.06,25.74 L652.67,25.67 L654.28,25.61 L655.89,25.56 L657.5,25.53" fill="none" stroke="#5bbb9b" stroke-width="1.65" stroke-linejoin="round" stroke-linecap="round" />
<path d="M401.5,210.23 L402.31,210.16 L403.11,210.09 L403.92,210.02 L404.72,209.95 L405.53,209.88 L406.33,209.81 L407.14,209.73 L407.94,209.65 L408.75,209.58 L409.55,209.5 L410.36,209.41 L411.16,209.33 L411.97,209.25 L412.77,209.16 L413.58,209.07 L414.38,208.98 L415.19,208.89 L415.99,208.8 L416.8,208.7 L417.6,208.61 L418.41,208.51 L419.21,208.41 L420.02,208.31 L420.82,208.2 L421.63,208.1 L422.43,207.99 L423.24,207.88 L424.04,207.77 L424.85,207.66 L425.65,207.54 L426.46,207.43 L427.26,207.31 L428.07,207.18 L428.87,207.06 L429.68,206.94 L430.48,206.81 L431.29,206.68 L432.09,206.55 L432.9,206.41 L433.7,206.28 L434.51,206.14 L435.31,206 L436.12,205.86 L436.92,205.71 L437.73,205.56 L438.53,205.41 L439.34,205.26 L440.14,205.11 L440.95,204.95 L441.75,204.79 L442.56,204.63 L443.36,204.46 L444.17,204.3 L444.97,204.13 L445.78,203.95 L446.58,203.78 L447.39,203.6 L448.19,203.42 L449,203.24 L449.8,203.05 L450.61,202.87 L451.41,202.68 L452.22,202.48 L453.02,202.29 L453.83,202.09 L454.63,201.89 L455.44,201.68 L456.24,201.47 L457.05,201.26 L457.85,201.05 L458.66,200.83 L459.46,200.61 L460.27,200.39 L461.07,200.17 L461.88,199.94 L462.68,199.71 L463.49,199.47 L464.29,199.24 L465.1,199 L465.9,198.75 L466.71,198.51 L467.51,198.26 L468.32,198 L469.12,197.75 L469.93,197.49 L470.73,197.23 L471.54,196.96 L472.34,196.69 L473.15,196.42 L473.95,196.14 L474.76,195.86 L475.56,195.58 L476.37,195.29 L477.17,195 L477.98,194.71 L478.78,194.41 L479.59,194.11 L480.39,193.81 L481.2,193.5 L482,193.19 L482.81,192.87 L483.61,192.56 L484.42,192.23 L485.22,191.91 L486.03,191.58 L486.83,191.25 L487.64,190.91 L488.44,190.57 L489.25,190.22 L490.05,189.88 L490.86,189.52 L491.66,189.17 L492.47,188.81 L493.27,188.44 L494.08,188.08 L494.88,187.7 L495.69,187.33 L496.49,186.95 L497.3,186.56 L498.1,186.18 L498.91,185.78 L499.71,185.39 L500.52,184.99 L501.32,184.58 L502.13,184.17 L502.93,183.76 L503.74,183.34 L504.54,182.92 L505.35,182.5 L506.15,182.07 L506.96,181.63 L507.76,181.2 L508.57,180.75 L509.37,180.31 L510.18,179.85 L510.98,179.4 L511.79,178.94 L512.59,178.47 L513.4,178 L514.2,177.53 L515.01,177.05 L515.81,176.57 L516.62,176.08 L517.42,175.59 L518.23,175.09 L519.03,174.59 L519.84,174.08 L520.64,173.57 L521.45,173.06 L522.25,172.54 L523.06,172.01 L523.86,171.48 L524.67,170.95 L525.47,170.41 L526.28,169.86 L527.08,169.31 L527.89,168.76 L528.69,168.2 L529.5,167.63" fill="none" stroke="#5bbb9b" stroke-width="1.65" stroke-linejoin="round" stroke-linecap="round" />
<path d="M529.5,147.92 L530.31,147.76 L531.11,147.6 L531.92,147.45 L532.72,147.3 L533.53,147.15 L534.33,147 L535.14,146.84 L535.94,146.67 L536.75,146.49 L537.55,146.3 L538.36,146.1 L539.16,145.88 L539.97,145.64 L540.77,145.37 L541.58,145.08 L542.38,144.76 L543.19,144.42 L543.99,144.04 L544.8,143.63 L545.6,143.18 L546.41,142.69 L547.21,142.15 L548.02,141.58 L548.82,140.96 L549.63,140.28 L550.43,139.56 L551.24,138.78 L552.04,137.95 L552.85,137.05 L553.65,136.1 L554.46,135.08 L555.26,134 L556.07,132.86 L556.87,131.66 L557.68,130.4 L558.48,129.09 L559.29,127.72 L560.09,126.29 L560.9,124.82 L561.7,123.29 L562.51,121.72 L563.31,120.1 L564.12,118.44 L564.92,116.75 L565.73,115.03 L566.53,113.29 L567.34,111.53 L568.14,109.76 L568.95,107.98 L569.75,106.2 L570.56,104.42 L571.36,102.64 L572.17,100.88 L572.97,99.13 L573.78,97.4 L574.58,95.69 L575.39,94.01 L576.19,92.36 L577,90.74 L577.8,89.17 L578.61,87.64 L579.41,86.14 L580.22,84.69 L581.02,83.28 L581.83,81.9 L582.63,80.56 L583.44,79.26 L584.24,77.99 L585.05,76.76 L585.85,75.56 L586.66,74.4 L587.46,73.26 L588.27,72.16 L589.07,71.09 L589.88,70.04 L590.68,69.03 L591.49,68.04 L592.29,67.07 L593.1,66.13 L593.9,65.22 L594.71,64.33 L595.51,63.46 L596.32,62.62 L597.12,61.79 L597.93,60.99 L598.73,60.2 L599.54,59.43 L600.34,58.68 L601.15,57.95 L601.95,57.23 L602.76,56.52 L603.56,55.83 L604.37,55.15 L605.17,54.48 L605.98,53.83 L606.78,53.18 L607.59,52.54 L608.39,51.91 L609.2,51.29 L610,50.67 L610.81,50.06 L611.61,49.45 L612.42,48.85 L613.22,48.25 L614.03,47.66 L614.83,47.07 L615.64,46.49 L616.44,45.9 L617.25,45.33 L618.05,44.75 L618.86,44.18 L619.66,43.61 L620.47,43.04 L621.27,42.47 L622.08,41.91 L622.88,41.34 L623.69,40.78 L624.49,40.21 L625.3,39.65 L626.1,39.09 L626.91,38.52 L627.71,37.96 L628.52,37.39 L629.32,36.83 L630.13,36.27 L630.93,35.71 L631.74,35.15 L632.54,34.59 L633.35,34.03 L634.15,33.47 L634.96,32.92 L635.76,32.37 L636.57,31.82 L637.37,31.27 L638.18,30.72 L638.98,30.18 L639.79,29.64 L640.59,29.11 L641.4,28.57 L642.2,28.05 L643.01,27.52 L643.81,27 L644.62,26.48 L645.42,25.97 L646.23,25.46 L647.03,24.96 L647.84,24.46 L648.64,23.97 L649.45,23.49 L650.25,23 L651.06,22.53 L651.86,22.06 L652.67,21.6 L653.47,21.14 L654.28,20.69 L655.08,20.25 L655.89,19.81 L656.69,19.38 L657.5,18.96" fill="none" stroke="#bfe08d" stroke-width="1.65" stroke-linejoin="round" stroke-linecap="round" />
<path d="M401.5,217.02 L403.11,216.51 L404.72,215.99 L406.33,215.45 L407.94,214.89 L409.55,214.31 L411.16,213.71 L412.77,213.08 L414.38,212.43 L415.99,211.75 L417.6,211.05 L419.21,210.32 L420.82,209.55 L422.43,208.75 L424.04,207.92 L425.65,207.05 L427.26,206.15 L428.87,205.2 L430.48,204.22 L432.09,203.19 L433.7,202.12 L435.31,201.01 L436.92,199.84 L438.53,198.63 L440.14,197.37 L441.75,196.06 L443.36,194.7 L444.97,193.28 L446.58,191.81 L448.19,190.28 L449.8,188.68 L451.41,187.03 L453.02,185.32 L454.63,183.54 L456.24,181.7 L457.85,179.79 L459.46,177.82 L461.07,175.77 L462.68,173.65 L464.29,171.46 L465.9,169.19 L467.51,166.85 L469.12,164.43 L470.73,161.93 L472.34,159.35 L473.95,156.69 L475.56,153.95 L477.17,151.12 L478.78,148.2 L480.39,145.19 L482,142.1 L483.61,138.92 L485.22,135.66 L486.83,132.36 L488.44,129 L490.05,125.63 L491.66,122.24 L493.27,118.85 L494.88,115.48 L496.49,112.14 L498.1,108.85 L499.71,105.62 L501.32,102.45 L502.93,99.35 L504.54,96.32 L506.15,93.37 L507.76,90.5 L509.37,87.72 L510.98,85.02 L512.59,82.43 L514.2,79.93 L515.81,77.53 L517.42,75.24 L519.03,73.04 L520.64,70.93 L522.25,68.92 L523.86,66.99 L525.47,65.15 L527.08,63.39 L528.69,61.71 L530.31,60.11 L531.92,58.59 L533.53,57.14 L535.14,55.75 L536.75,54.44 L538.36,53.18 L539.97,51.99 L541.58,50.86 L543.19,49.78 L544.8,48.76 L546.41,47.79 L548.02,46.86 L549.63,45.98 L551.24,45.15 L552.85,44.35 L554.46,43.59 L556.07,42.86 L557.68,42.17 L559.29,41.51 L560.9,40.87 L562.51,40.25 L564.12,39.66 L565.73,39.09 L567.34,38.53 L568.95,37.98 L570.56,37.44 L572.17,36.92 L573.78,36.39 L575.39,35.87 L577,35.35 L578.61,34.83 L580.22,34.31 L581.83,33.79 L583.44,33.28 L585.05,32.76 L586.66,32.25 L588.27,31.75 L589.88,31.24 L591.49,30.74 L593.1,30.25 L594.71,29.76 L596.32,29.27 L597.93,28.79 L599.54,28.32 L601.15,27.86 L602.76,27.4 L604.37,26.95 L605.98,26.5 L607.59,26.07 L609.2,25.64 L610.81,25.22 L612.42,24.81 L614.03,24.42 L615.64,24.03 L617.25,23.65 L618.86,23.29 L620.47,22.93 L622.08,22.59 L623.69,22.26 L625.3,21.95 L626.91,21.64 L628.52,21.35 L630.13,21.08 L631.74,20.82 L633.35,20.57 L634.96,20.34 L636.57,20.13 L638.18,19.93 L639.79,19.75 L641.4,19.58 L643.01,19.44 L644.62,19.31 L646.23,19.2 L647.84,19.11 L649.45,19.03 L651.06,18.98 L652.67,18.95 L654.28,18.94 L655.89,18.94 L657.5,18.97" fill="none" stroke="#bfe08d" stroke-width="1.65" stroke-linejoin="round" stroke-linecap="round" />
<path d="M401.5,217.05 L402.31,216.96 L403.11,216.87 L403.92,216.78 L404.72,216.69 L405.53,216.59 L406.33,216.5 L407.14,216.4 L407.94,216.3 L408.75,216.2 L409.55,216.1 L410.36,215.99 L411.16,215.89 L411.97,215.78 L412.77,215.67 L413.58,215.56 L414.38,215.45 L415.19,215.33 L415.99,215.22 L416.8,215.1 L417.6,214.98 L418.41,214.86 L419.21,214.73 L420.02,214.61 L420.82,214.48 L421.63,214.35 L422.43,214.22 L423.24,214.08 L424.04,213.95 L424.85,213.81 L425.65,213.67 L426.46,213.52 L427.26,213.38 L428.07,213.23 L428.87,213.08 L429.68,212.93 L430.48,212.78 L431.29,212.62 L432.09,212.47 L432.9,212.31 L433.7,212.14 L434.51,211.98 L435.31,211.81 L436.12,211.64 L436.92,211.47 L437.73,211.3 L438.53,211.12 L439.34,210.94 L440.14,210.76 L440.95,210.58 L441.75,210.39 L442.56,210.2 L443.36,210.01 L444.17,209.81 L444.97,209.62 L445.78,209.42 L446.58,209.22 L447.39,209.01 L448.19,208.8 L449,208.6 L449.8,208.38 L450.61,208.17 L451.41,207.95 L452.22,207.73 L453.02,207.5 L453.83,207.28 L454.63,207.05 L455.44,206.82 L456.24,206.58 L457.05,206.34 L457.85,206.1 L458.66,205.86 L459.46,205.61 L460.27,205.36 L461.07,205.11 L461.88,204.86 L462.68,204.6 L463.49,204.34 L464.29,204.07 L465.1,203.8 L465.9,203.53 L466.71,203.26 L467.51,202.98 L468.32,202.7 L469.12,202.42 L469.93,202.13 L470.73,201.84 L471.54,201.55 L472.34,201.25 L473.15,200.95 L473.95,200.65 L474.76,200.34 L475.56,200.03 L476.37,199.72 L477.17,199.4 L477.98,199.08 L478.78,198.76 L479.59,198.43 L480.39,198.1 L481.2,197.77 L482,197.43 L482.81,197.09 L483.61,196.74 L484.42,196.4 L485.22,196.04 L486.03,195.69 L486.83,195.33 L487.64,194.97 L488.44,194.6 L489.25,194.23 L490.05,193.86 L490.86,193.48 L491.66,193.1 L492.47,192.72 L493.27,192.33 L494.08,191.93 L494.88,191.54 L495.69,191.14 L496.49,190.73 L497.3,190.33 L498.1,189.91 L498.91,189.5 L499.71,189.08 L500.52,188.65 L501.32,188.23 L502.13,187.79 L502.93,187.36 L503.74,186.92 L504.54,186.47 L505.35,186.03 L506.15,185.57 L506.96,185.12 L507.76,184.66 L508.57,184.19 L509.37,183.72 L510.18,183.25 L510.98,182.77 L511.79,182.29 L512.59,181.8 L513.4,181.31 L514.2,180.82 L515.01,180.32 L515.81,179.82 L516.62,179.31 L517.42,178.8 L518.23,178.28 L519.03,177.76 L519.84,177.23 L520.64,176.7 L521.45,176.17 L522.25,175.63 L523.06,175.09 L523.86,174.54 L524.67,173.99 L525.47,173.43 L526.28,172.87 L527.08,172.3 L527.89,171.73 L528.69,171.15 L529.5,170.57" fill="none" stroke="#bfe08d" stroke-width="1.65" stroke-linejoin="round" stroke-linecap="round" />
<path d="M529.5,143.53 L530.31,143.58 L531.11,143.6 L531.92,143.6 L532.72,143.58 L533.53,143.53 L534.33,143.46 L535.14,143.36 L535.94,143.23 L536.75,143.07 L537.55,142.89 L538.36,142.67 L539.16,142.42 L539.97,142.13 L540.77,141.81 L541.58,141.46 L542.38,141.07 L543.19,140.64 L543.99,140.18 L544.8,139.68 L545.6,139.13 L546.41,138.55 L547.21,137.92 L548.02,137.25 L548.82,136.53 L549.63,135.78 L550.43,134.97 L551.24,134.12 L552.04,133.22 L552.85,132.27 L553.65,131.27 L554.46,130.22 L555.26,129.12 L556.07,127.98 L556.87,126.79 L557.68,125.57 L558.48,124.31 L559.29,123.01 L560.09,121.69 L560.9,120.33 L561.7,118.95 L562.51,117.55 L563.31,116.13 L564.12,114.69 L564.92,113.23 L565.73,111.76 L566.53,110.29 L567.34,108.8 L568.14,107.32 L568.95,105.83 L569.75,104.34 L570.56,102.86 L571.36,101.38 L572.17,99.92 L572.97,98.47 L573.78,97.03 L574.58,95.61 L575.39,94.21 L576.19,92.84 L577,91.49 L577.8,90.17 L578.61,88.88 L579.41,87.63 L580.22,86.4 L581.02,85.2 L581.83,84.03 L582.63,82.88 L583.44,81.76 L584.24,80.67 L585.05,79.6 L585.85,78.56 L586.66,77.55 L587.46,76.55 L588.27,75.58 L589.07,74.64 L589.88,73.71 L590.68,72.81 L591.49,71.92 L592.29,71.06 L593.1,70.22 L593.9,69.39 L594.71,68.58 L595.51,67.79 L596.32,67.02 L597.12,66.26 L597.93,65.52 L598.73,64.8 L599.54,64.09 L600.34,63.39 L601.15,62.7 L601.95,62.03 L602.76,61.37 L603.56,60.72 L604.37,60.08 L605.17,59.45 L605.98,58.84 L606.78,58.23 L607.59,57.62 L608.39,57.03 L609.2,56.44 L610,55.86 L610.81,55.29 L611.61,54.72 L612.42,54.15 L613.22,53.59 L614.03,53.03 L614.83,52.47 L615.64,51.92 L616.44,51.36 L617.25,50.81 L618.05,50.26 L618.86,49.71 L619.66,49.15 L620.47,48.6 L621.27,48.04 L622.08,47.48 L622.88,46.91 L623.69,46.34 L624.49,45.77 L625.3,45.19 L626.1,44.6 L626.91,44.01 L627.71,43.42 L628.52,42.81 L629.32,42.21 L630.13,41.59 L630.93,40.98 L631.74,40.36 L632.54,39.73 L633.35,39.11 L634.15,38.48 L634.96,37.85 L635.76,37.22 L636.57,36.58 L637.37,35.95 L638.18,35.31 L638.98,34.68 L639.79,34.04 L640.59,33.41 L641.4,32.78 L642.2,32.14 L643.01,31.51 L643.81,30.88 L644.62,30.26 L645.42,29.64 L646.23,29.02 L647.03,28.4 L647.84,27.79 L648.64,27.18 L649.45,26.58 L650.25,25.98 L651.06,25.39 L651.86,24.81 L652.67,24.23 L653.47,23.65 L654.28,23.09 L655.08,22.53 L655.89,21.98 L656.69,21.44 L657.5,20.91" fill="none" stroke="#e8523b" stroke-width="1.65" stroke-linejoin="round" stroke-linecap="round" />
<path d="M401.5,215.31 L403.11,214.95 L404.72,214.57 L406.33,214.15 L407.94,213.69 L409.55,213.2 L411.16,212.66 L412.77,212.09 L414.38,211.49 L415.99,210.84 L417.6,210.15 L419.21,209.42 L420.82,208.64 L422.43,207.83 L424.04,206.97 L425.65,206.07 L427.26,205.12 L428.87,204.12 L430.48,203.08 L432.09,202 L433.7,200.86 L435.31,199.68 L436.92,198.44 L438.53,197.16 L440.14,195.82 L441.75,194.44 L443.36,193 L444.97,191.51 L446.58,189.96 L448.19,188.36 L449.8,186.71 L451.41,184.99 L453.02,183.22 L454.63,181.4 L456.24,179.51 L457.85,177.57 L459.46,175.56 L461.07,173.5 L462.68,171.37 L464.29,169.19 L465.9,166.94 L467.51,164.62 L469.12,162.24 L470.73,159.8 L472.34,157.29 L473.95,154.71 L475.56,152.07 L477.17,149.36 L478.78,146.58 L480.39,143.73 L482,140.81 L483.61,137.82 L485.22,134.78 L486.83,131.69 L488.44,128.57 L490.05,125.42 L491.66,122.26 L493.27,119.09 L494.88,115.93 L496.49,112.79 L498.1,109.68 L499.71,106.61 L501.32,103.58 L502.93,100.6 L504.54,97.68 L506.15,94.83 L507.76,92.04 L509.37,89.33 L510.98,86.7 L512.59,84.15 L514.2,81.71 L515.81,79.35 L517.42,77.1 L519.03,74.93 L520.64,72.86 L522.25,70.87 L523.86,68.97 L525.47,67.14 L527.08,65.4 L528.69,63.73 L530.31,62.14 L531.92,60.62 L533.53,59.17 L535.14,57.79 L536.75,56.47 L538.36,55.21 L539.97,54.01 L541.58,52.87 L543.19,51.78 L544.8,50.75 L546.41,49.76 L548.02,48.82 L549.63,47.92 L551.24,47.07 L552.85,46.26 L554.46,45.48 L556.07,44.73 L557.68,44.02 L559.29,43.34 L560.9,42.68 L562.51,42.05 L564.12,41.44 L565.73,40.84 L567.34,40.27 L568.95,39.71 L570.56,39.16 L572.17,38.61 L573.78,38.08 L575.39,37.55 L577,37.02 L578.61,36.5 L580.22,35.97 L581.83,35.45 L583.44,34.94 L585.05,34.43 L586.66,33.92 L588.27,33.42 L589.88,32.92 L591.49,32.42 L593.1,31.94 L594.71,31.46 L596.32,30.98 L597.93,30.51 L599.54,30.05 L601.15,29.6 L602.76,29.15 L604.37,28.71 L605.98,28.28 L607.59,27.86 L609.2,27.45 L610.81,27.05 L612.42,26.65 L614.03,26.27 L615.64,25.9 L617.25,25.53 L618.86,25.18 L620.47,24.84 L622.08,24.51 L623.69,24.2 L625.3,23.89 L626.91,23.6 L628.52,23.32 L630.13,23.06 L631.74,22.8 L633.35,22.57 L634.96,22.34 L636.57,22.14 L638.18,21.94 L639.79,21.76 L641.4,21.6 L643.01,21.46 L644.62,21.33 L646.23,21.21 L647.84,21.12 L649.45,21.04 L651.06,20.98 L652.67,20.93 L654.28,20.91 L655.89,20.9 L657.5,20.91" fill="none" stroke="#e8523b" stroke-width="1.65" stroke-linejoin="round" stroke-linecap="round" />
<path d="M401.5,215.35 L402.31,215.25 L403.11,215.15 L403.92,215.05 L404.72,214.95 L405.53,214.85 L406.33,214.74 L407.14,214.64 L407.94,214.53 L408.75,214.42 L409.55,214.31 L410.36,214.2 L411.16,214.09 L411.97,213.98 L412.77,213.87 L413.58,213.75 L414.38,213.64 L415.19,213.52 L415.99,213.4 L416.8,213.28 L417.6,213.15 L418.41,213.03 L419.21,212.9 L420.02,212.78 L420.82,212.65 L421.63,212.52 L422.43,212.39 L423.24,212.25 L424.04,212.12 L424.85,211.98 L425.65,211.84 L426.46,211.7 L427.26,211.56 L428.07,211.41 L428.87,211.27 L429.68,211.12 L430.48,210.97 L431.29,210.81 L432.09,210.66 L432.9,210.5 L433.7,210.35 L434.51,210.19 L435.31,210.02 L436.12,209.86 L436.92,209.69 L437.73,209.53 L438.53,209.35 L439.34,209.18 L440.14,209.01 L440.95,208.83 L441.75,208.65 L442.56,208.47 L443.36,208.28 L444.17,208.1 L444.97,207.91 L445.78,207.72 L446.58,207.52 L447.39,207.33 L448.19,207.13 L449,206.93 L449.8,206.72 L450.61,206.52 L451.41,206.31 L452.22,206.1 L453.02,205.88 L453.83,205.67 L454.63,205.45 L455.44,205.22 L456.24,205 L457.05,204.77 L457.85,204.54 L458.66,204.31 L459.46,204.07 L460.27,203.83 L461.07,203.59 L461.88,203.35 L462.68,203.1 L463.49,202.85 L464.29,202.6 L465.1,202.34 L465.9,202.08 L466.71,201.82 L467.51,201.55 L468.32,201.28 L469.12,201.01 L469.93,200.74 L470.73,200.46 L471.54,200.18 L472.34,199.89 L473.15,199.6 L473.95,199.31 L474.76,199.02 L475.56,198.72 L476.37,198.42 L477.17,198.11 L477.98,197.81 L478.78,197.49 L479.59,197.18 L480.39,196.86 L481.2,196.54 L482,196.21 L482.81,195.88 L483.61,195.55 L484.42,195.22 L485.22,194.88 L486.03,194.53 L486.83,194.18 L487.64,193.83 L488.44,193.48 L489.25,193.12 L490.05,192.76 L490.86,192.39 L491.66,192.02 L492.47,191.65 L493.27,191.27 L494.08,190.89 L494.88,190.5 L495.69,190.11 L496.49,189.72 L497.3,189.32 L498.1,188.92 L498.91,188.52 L499.71,188.11 L500.52,187.69 L501.32,187.27 L502.13,186.85 L502.93,186.43 L503.74,185.99 L504.54,185.56 L505.35,185.12 L506.15,184.68 L506.96,184.23 L507.76,183.78 L508.57,183.32 L509.37,182.86 L510.18,182.39 L510.98,181.92 L511.79,181.45 L512.59,180.97 L513.4,180.49 L514.2,180 L515.01,179.51 L515.81,179.01 L516.62,178.51 L517.42,178 L518.23,177.49 L519.03,176.98 L519.84,176.46 L520.64,175.93 L521.45,175.4 L522.25,174.87 L523.06,174.33 L523.86,173.78 L524.67,173.23 L525.47,172.68 L526.28,172.12 L527.08,171.56 L527.89,170.99 L528.69,170.41 L529.5,169.83" fill="none" stroke="#e8523b" stroke-width="1.65" stroke-linejoin="round" stroke-linecap="round" />
<path d="M529.5,141.58 L530.31,141.65 L531.11,141.7 L531.92,141.72 L532.72,141.73 L533.53,141.71 L534.33,141.67 L535.14,141.61 L535.94,141.53 L536.75,141.41 L537.55,141.28 L538.36,141.11 L539.16,140.92 L539.97,140.7 L540.77,140.45 L541.58,140.18 L542.38,139.87 L543.19,139.53 L543.99,139.15 L544.8,138.75 L545.6,138.31 L546.41,137.83 L547.21,137.32 L548.02,136.78 L548.82,136.19 L549.63,135.57 L550.43,134.91 L551.24,134.21 L552.04,133.47 L552.85,132.69 L553.65,131.87 L554.46,131 L555.26,130.1 L556.07,129.16 L556.87,128.18 L557.68,127.17 L558.48,126.13 L559.29,125.05 L560.09,123.95 L560.9,122.83 L561.7,121.68 L562.51,120.51 L563.31,119.32 L564.12,118.11 L564.92,116.89 L565.73,115.66 L566.53,114.41 L567.34,113.16 L568.14,111.9 L568.95,110.63 L569.75,109.37 L570.56,108.1 L571.36,106.84 L572.17,105.58 L572.97,104.32 L573.78,103.07 L574.58,101.84 L575.39,100.61 L576.19,99.4 L577,98.21 L577.8,97.04 L578.61,95.88 L579.41,94.75 L580.22,93.63 L581.02,92.53 L581.83,91.46 L582.63,90.4 L583.44,89.36 L584.24,88.33 L585.05,87.33 L585.85,86.34 L586.66,85.37 L587.46,84.42 L588.27,83.49 L589.07,82.57 L589.88,81.67 L590.68,80.78 L591.49,79.91 L592.29,79.06 L593.1,78.22 L593.9,77.4 L594.71,76.59 L595.51,75.8 L596.32,75.03 L597.12,74.26 L597.93,73.51 L598.73,72.78 L599.54,72.06 L600.34,71.35 L601.15,70.66 L601.95,69.98 L602.76,69.31 L603.56,68.65 L604.37,68.01 L605.17,67.38 L605.98,66.76 L606.78,66.16 L607.59,65.56 L608.39,64.98 L609.2,64.4 L610,63.84 L610.81,63.29 L611.61,62.75 L612.42,62.22 L613.22,61.69 L614.03,61.18 L614.83,60.68 L615.64,60.18 L616.44,59.7 L617.25,59.22 L618.05,58.76 L618.86,58.3 L619.66,57.85 L620.47,57.4 L621.27,56.97 L622.08,56.54 L622.88,56.11 L623.69,55.7 L624.49,55.29 L625.3,54.89 L626.1,54.49 L626.91,54.1 L627.71,53.72 L628.52,53.34 L629.32,52.97 L630.13,52.6 L630.93,52.23 L631.74,51.87 L632.54,51.52 L633.35,51.17 L634.15,50.82 L634.96,50.47 L635.76,50.13 L636.57,49.8 L637.37,49.46 L638.18,49.13 L638.98,48.8 L639.79,48.47 L640.59,48.14 L641.4,47.82 L642.2,47.5 L643.01,47.18 L643.81,46.86 L644.62,46.54 L645.42,46.22 L646.23,45.9 L647.03,45.58 L647.84,45.26 L648.64,44.94 L649.45,44.62 L650.25,44.3 L651.06,43.98 L651.86,43.66 L652.67,43.33 L653.47,43.01 L654.28,42.68 L655.08,42.35 L655.89,42.01 L656.69,41.68 L657.5,41.34" fill="none" stroke="#fcb262" stroke-width="1.65" stroke-linejoin="round" stroke-linecap="round" />
<path d="M401.5,194.64 L403.11,193.87 L404.72,193.12 L406.33,192.39 L407.94,191.67 L409.55,190.98 L411.16,190.3 L412.77,189.62 L414.38,188.96 L415.99,188.31 L417.6,187.66 L419.21,187.01 L420.82,186.36 L422.43,185.71 L424.04,185.05 L425.65,184.38 L427.26,183.71 L428.87,183.02 L430.48,182.32 L432.09,181.61 L433.7,180.87 L435.31,180.11 L436.92,179.33 L438.53,178.52 L440.14,177.68 L441.75,176.81 L443.36,175.91 L444.97,174.98 L446.58,174 L448.19,172.98 L449.8,171.93 L451.41,170.82 L453.02,169.67 L454.63,168.47 L456.24,167.22 L457.85,165.91 L459.46,164.55 L461.07,163.12 L462.68,161.64 L464.29,160.09 L465.9,158.48 L467.51,156.79 L469.12,155.04 L470.73,153.21 L472.34,151.31 L473.95,149.33 L475.56,147.26 L477.17,145.12 L478.78,142.89 L480.39,140.57 L482,138.16 L483.61,135.67 L485.22,133.11 L486.83,130.48 L488.44,127.81 L490.05,125.11 L491.66,122.4 L493.27,119.69 L494.88,116.98 L496.49,114.31 L498.1,111.67 L499.71,109.09 L501.32,106.57 L502.93,104.1 L504.54,101.69 L506.15,99.35 L507.76,97.09 L509.37,94.89 L510.98,92.78 L512.59,90.74 L514.2,88.79 L515.81,86.93 L517.42,85.15 L519.03,83.45 L520.64,81.83 L522.25,80.29 L523.86,78.82 L525.47,77.43 L527.08,76.1 L528.69,74.84 L530.31,73.64 L531.92,72.5 L533.53,71.43 L535.14,70.41 L536.75,69.44 L538.36,68.53 L539.97,67.67 L541.58,66.85 L543.19,66.08 L544.8,65.35 L546.41,64.66 L548.02,64.01 L549.63,63.39 L551.24,62.81 L552.85,62.25 L554.46,61.72 L556.07,61.22 L557.68,60.74 L559.29,60.28 L560.9,59.83 L562.51,59.41 L564.12,58.99 L565.73,58.58 L567.34,58.19 L568.95,57.8 L570.56,57.41 L572.17,57.02 L573.78,56.63 L575.39,56.23 L577,55.83 L578.61,55.43 L580.22,55.01 L581.83,54.6 L583.44,54.18 L585.05,53.76 L586.66,53.33 L588.27,52.91 L589.88,52.48 L591.49,52.05 L593.1,51.62 L594.71,51.19 L596.32,50.77 L597.93,50.34 L599.54,49.92 L601.15,49.5 L602.76,49.08 L604.37,48.67 L605.98,48.26 L607.59,47.86 L609.2,47.47 L610.81,47.08 L612.42,46.7 L614.03,46.32 L615.64,45.96 L617.25,45.6 L618.86,45.25 L620.47,44.91 L622.08,44.59 L623.69,44.27 L625.3,43.97 L626.91,43.68 L628.52,43.4 L630.13,43.14 L631.74,42.89 L633.35,42.66 L634.96,42.44 L636.57,42.24 L638.18,42.05 L639.79,41.89 L641.4,41.74 L643.01,41.61 L644.62,41.49 L646.23,41.4 L647.84,41.33 L649.45,41.28 L651.06,41.25 L652.67,41.25 L654.28,41.26 L655.89,41.3 L657.5,41.37" fill="none" stroke="#fcb262" stroke-width="1.65" stroke-linejoin="round" stroke-linecap="round" />
<path d="M401.5,194.66 L402.31,194.6 L403.11,194.54 L403.92,194.47 L404.72,194.41 L405.53,194.34 L406.33,194.27 L407.14,194.21 L407.94,194.14 L408.75,194.06 L409.55,193.99 L410.36,193.92 L411.16,193.84 L411.97,193.77 L412.77,193.69 L413.58,193.61 L414.38,193.53 L415.19,193.44 L415.99,193.36 L416.8,193.27 L417.6,193.19 L418.41,193.1 L419.21,193.01 L420.02,192.92 L420.82,192.82 L421.63,192.73 L422.43,192.63 L423.24,192.53 L424.04,192.43 L424.85,192.33 L425.65,192.23 L426.46,192.12 L427.26,192.02 L428.07,191.91 L428.87,191.8 L429.68,191.69 L430.48,191.57 L431.29,191.46 L432.09,191.34 L432.9,191.22 L433.7,191.1 L434.51,190.97 L435.31,190.85 L436.12,190.72 L436.92,190.59 L437.73,190.46 L438.53,190.33 L439.34,190.19 L440.14,190.06 L440.95,189.92 L441.75,189.78 L442.56,189.63 L443.36,189.49 L444.17,189.34 L444.97,189.19 L445.78,189.04 L446.58,188.88 L447.39,188.73 L448.19,188.57 L449,188.41 L449.8,188.25 L450.61,188.08 L451.41,187.91 L452.22,187.75 L453.02,187.57 L453.83,187.4 L454.63,187.22 L455.44,187.04 L456.24,186.86 L457.05,186.68 L457.85,186.49 L458.66,186.3 L459.46,186.11 L460.27,185.92 L461.07,185.72 L461.88,185.53 L462.68,185.33 L463.49,185.12 L464.29,184.92 L465.1,184.71 L465.9,184.5 L466.71,184.28 L467.51,184.07 L468.32,183.85 L469.12,183.63 L469.93,183.4 L470.73,183.18 L471.54,182.95 L472.34,182.71 L473.15,182.48 L473.95,182.24 L474.76,182 L475.56,181.76 L476.37,181.51 L477.17,181.26 L477.98,181.01 L478.78,180.75 L479.59,180.5 L480.39,180.24 L481.2,179.97 L482,179.71 L482.81,179.44 L483.61,179.16 L484.42,178.89 L485.22,178.61 L486.03,178.33 L486.83,178.04 L487.64,177.76 L488.44,177.47 L489.25,177.17 L490.05,176.88 L490.86,176.58 L491.66,176.27 L492.47,175.97 L493.27,175.66 L494.08,175.34 L494.88,175.03 L495.69,174.71 L496.49,174.39 L497.3,174.06 L498.1,173.73 L498.91,173.4 L499.71,173.06 L500.52,172.73 L501.32,172.38 L502.13,172.04 L502.93,171.69 L503.74,171.34 L504.54,170.98 L505.35,170.62 L506.15,170.26 L506.96,169.89 L507.76,169.52 L508.57,169.15 L509.37,168.77 L510.18,168.39 L510.98,168.01 L511.79,167.62 L512.59,167.23 L513.4,166.83 L514.2,166.44 L515.01,166.03 L515.81,165.63 L516.62,165.22 L517.42,164.81 L518.23,164.39 L519.03,163.97 L519.84,163.54 L520.64,163.11 L521.45,162.68 L522.25,162.25 L523.06,161.81 L523.86,161.36 L524.67,160.92 L525.47,160.47 L526.28,160.01 L527.08,159.55 L527.89,159.09 L528.69,158.62 L529.5,158.15" fill="none" stroke="#fcb262" stroke-width="1.65" stroke-linejoin="round" stroke-linecap="round" />
<line x1="385" y1="8" x2="674" y2="8" stroke="#474747" stroke-width="1.1" />
<line x1="385.5" y1="8" x2="385.5" y2="228" stroke="#474747" stroke-width="1" />
<line x1="385.5" y1="227.5" x2="673.5" y2="227.5" stroke="#474747" stroke-width="1" />
<line x1="673.5" y1="8" x2="673.5" y2="228" stroke="#474747" stroke-width="1" />
<line x1="401.5" y1="227.5" x2="401.5" y2="223.3" stroke="#474747" stroke-width="1" />
<text x="401.5" y="241.6" font-size="13" text-anchor="middle" fill="#1a1a1a" >-80</text>
<line x1="433.5" y1="227.5" x2="433.5" y2="223.3" stroke="#474747" stroke-width="1" />
<text x="433.5" y="241.6" font-size="13" text-anchor="middle" fill="#1a1a1a" >-60</text>
<line x1="465.5" y1="227.5" x2="465.5" y2="223.3" stroke="#474747" stroke-width="1" />
<text x="465.5" y="241.6" font-size="13" text-anchor="middle" fill="#1a1a1a" >-40</text>
<line x1="497.5" y1="227.5" x2="497.5" y2="223.3" stroke="#474747" stroke-width="1" />
<text x="497.5" y="241.6" font-size="13" text-anchor="middle" fill="#1a1a1a" >-20</text>
<line x1="529.5" y1="227.5" x2="529.5" y2="223.3" stroke="#474747" stroke-width="1" />
<text x="529.5" y="241.6" font-size="13" text-anchor="middle" fill="#1a1a1a" >0</text>
<line x1="561.5" y1="227.5" x2="561.5" y2="223.3" stroke="#474747" stroke-width="1" />
<text x="561.5" y="241.6" font-size="13" text-anchor="middle" fill="#1a1a1a" >20</text>
<line x1="593.5" y1="227.5" x2="593.5" y2="223.3" stroke="#474747" stroke-width="1" />
<text x="593.5" y="241.6" font-size="13" text-anchor="middle" fill="#1a1a1a" >40</text>
<line x1="625.5" y1="227.5" x2="625.5" y2="223.3" stroke="#474747" stroke-width="1" />
<text x="625.5" y="241.6" font-size="13" text-anchor="middle" fill="#1a1a1a" >60</text>
<line x1="657.5" y1="227.5" x2="657.5" y2="223.3" stroke="#474747" stroke-width="1" />
<text x="657.5" y="241.6" font-size="13" text-anchor="middle" fill="#1a1a1a" >80</text>
<line x1="417.5" y1="227.5" x2="417.5" y2="225" stroke="#474747" stroke-width="1" />
<line x1="449.5" y1="227.5" x2="449.5" y2="225" stroke="#474747" stroke-width="1" />
<line x1="481.5" y1="227.5" x2="481.5" y2="225" stroke="#474747" stroke-width="1" />
<line x1="513.5" y1="227.5" x2="513.5" y2="225" stroke="#474747" stroke-width="1" />
<line x1="545.5" y1="227.5" x2="545.5" y2="225" stroke="#474747" stroke-width="1" />
<line x1="577.5" y1="227.5" x2="577.5" y2="225" stroke="#474747" stroke-width="1" />
<line x1="609.5" y1="227.5" x2="609.5" y2="225" stroke="#474747" stroke-width="1" />
<line x1="641.5" y1="227.5" x2="641.5" y2="225" stroke="#474747" stroke-width="1" />
<line x1="385.5" y1="215.33" x2="389.7" y2="215.33" stroke="#474747" stroke-width="1" />
<text x="380.8" y="219.13" font-size="13" text-anchor="end" fill="#1a1a1a" >-40</text>
<line x1="385.5" y1="191" x2="389.7" y2="191" stroke="#474747" stroke-width="1" />
<text x="380.8" y="194.8" font-size="13" text-anchor="end" fill="#1a1a1a" >-30</text>
<line x1="385.5" y1="166.67" x2="389.7" y2="166.67" stroke="#474747" stroke-width="1" />
<text x="380.8" y="170.47" font-size="13" text-anchor="end" fill="#1a1a1a" >-20</text>
<line x1="385.5" y1="142.33" x2="389.7" y2="142.33" stroke="#474747" stroke-width="1" />
<text x="380.8" y="146.13" font-size="13" text-anchor="end" fill="#1a1a1a" >-10</text>
<line x1="385.5" y1="118" x2="389.7" y2="118" stroke="#474747" stroke-width="1" />
<text x="380.8" y="121.8" font-size="13" text-anchor="end" fill="#1a1a1a" >0</text>
<line x1="385.5" y1="93.67" x2="389.7" y2="93.67" stroke="#474747" stroke-width="1" />
<text x="380.8" y="97.47" font-size="13" text-anchor="end" fill="#1a1a1a" >10</text>
<line x1="385.5" y1="69.33" x2="389.7" y2="69.33" stroke="#474747" stroke-width="1" />
<text x="380.8" y="73.13" font-size="13" text-anchor="end" fill="#1a1a1a" >20</text>
<line x1="385.5" y1="45" x2="389.7" y2="45" stroke="#474747" stroke-width="1" />
<text x="380.8" y="48.8" font-size="13" text-anchor="end" fill="#1a1a1a" >30</text>
<line x1="385.5" y1="20.67" x2="389.7" y2="20.67" stroke="#474747" stroke-width="1" />
<text x="380.8" y="24.47" font-size="13" text-anchor="end" fill="#1a1a1a" >40</text>
<line x1="385.5" y1="203.17" x2="388" y2="203.17" stroke="#474747" stroke-width="1" />
<line x1="385.5" y1="178.83" x2="388" y2="178.83" stroke="#474747" stroke-width="1" />
<line x1="385.5" y1="154.5" x2="388" y2="154.5" stroke="#474747" stroke-width="1" />
<line x1="385.5" y1="130.17" x2="388" y2="130.17" stroke="#474747" stroke-width="1" />
<line x1="385.5" y1="105.83" x2="388" y2="105.83" stroke="#474747" stroke-width="1" />
<line x1="385.5" y1="81.5" x2="388" y2="81.5" stroke="#474747" stroke-width="1" />
<line x1="385.5" y1="57.17" x2="388" y2="57.17" stroke="#474747" stroke-width="1" />
<line x1="385.5" y1="32.83" x2="388" y2="32.83" stroke="#474747" stroke-width="1" />
<text x="342.9" y="28" font-size="18" text-anchor="start" fill="#1a1a1a" >(c)</text>
<text x="488" y="262" font-size="17" text-anchor="start" fill="#1a1a1a" ><tspan font-style="italic">E</tspan> (kV cm<tspan font-size="11" dy="-6">-1</tspan><tspan dy="6">)</tspan></text>
<text transform="translate(362,116.6) rotate(-90)" font-size="17" text-anchor="middle" fill="#1a1a1a"><tspan font-style="italic">P</tspan> (μC cm<tspan font-size="11" dy="-6">-2</tspan><tspan dy="6">)</tspan></text>
<line x1="393.5" y1="17.2" x2="414.5" y2="17.2" stroke="#3a62ad" stroke-width="1.6" />
<text x="417.9" y="21.7" font-size="13" text-anchor="start" fill="#1a1a1a" >x=0%</text>
<line x1="393.5" y1="33.4" x2="414.5" y2="33.4" stroke="#5bbb9b" stroke-width="1.6" />
<text x="417.9" y="37.9" font-size="13" text-anchor="start" fill="#1a1a1a" >x=0.05%</text>
<line x1="393.5" y1="50.8" x2="414.5" y2="50.8" stroke="#bfe08d" stroke-width="1.6" />
<text x="417.9" y="55.3" font-size="13" text-anchor="start" fill="#1a1a1a" >x=0.1%</text>
<line x1="393.5" y1="68.4" x2="414.5" y2="68.4" stroke="#e8523b" stroke-width="1.6" />
<text x="417.9" y="72.9" font-size="13" text-anchor="start" fill="#1a1a1a" >x=0.15%</text>
<line x1="393.5" y1="86" x2="414.5" y2="86" stroke="#fcb262" stroke-width="1.6" />
<text x="417.9" y="90.5" font-size="13" text-anchor="start" fill="#1a1a1a" >x=0.2%</text>
<defs><radialGradient id="gb" cx="0.45" cy="0.4" r="0.62" fx="0.38" fy="0.3"><stop offset="0" stop-color="#ffffff"/><stop offset="0.16" stop-color="#e4eaf6"/><stop offset="0.42" stop-color="#3f66b2"/><stop offset="1" stop-color="#2f56a3"/></radialGradient><radialGradient id="gt" cx="0.45" cy="0.4" r="0.62" fx="0.38" fy="0.3"><stop offset="0" stop-color="#ffffff"/><stop offset="0.16" stop-color="#e6f5ef"/><stop offset="0.42" stop-color="#5fbf9f"/><stop offset="1" stop-color="#4dae8e"/></radialGradient></defs>
<line x1="410.9" y1="267.5" x2="410.9" y2="487.5" stroke="#e6e6e6" stroke-width="0.9" />
<line x1="436.3" y1="267.5" x2="436.3" y2="487.5" stroke="#e6e6e6" stroke-width="0.9" />
<line x1="461.7" y1="267.5" x2="461.7" y2="487.5" stroke="#e6e6e6" stroke-width="0.9" />
<line x1="487.1" y1="267.5" x2="487.1" y2="487.5" stroke="#e6e6e6" stroke-width="0.9" />
<line x1="512.5" y1="267.5" x2="512.5" y2="487.5" stroke="#e6e6e6" stroke-width="0.9" />
<line x1="537.9" y1="267.5" x2="537.9" y2="487.5" stroke="#e6e6e6" stroke-width="0.9" />
<line x1="563.3" y1="267.5" x2="563.3" y2="487.5" stroke="#e6e6e6" stroke-width="0.9" />
<line x1="588.7" y1="267.5" x2="588.7" y2="487.5" stroke="#e6e6e6" stroke-width="0.9" />
<line x1="614.1" y1="267.5" x2="614.1" y2="487.5" stroke="#e6e6e6" stroke-width="0.9" />
<line x1="385.5" y1="473.75" x2="639.5" y2="473.75" stroke="#e6e6e6" stroke-width="0.9" />
<line x1="385.5" y1="460" x2="639.5" y2="460" stroke="#e6e6e6" stroke-width="0.9" />
<line x1="385.5" y1="446.25" x2="639.5" y2="446.25" stroke="#e6e6e6" stroke-width="0.9" />
<line x1="385.5" y1="432.5" x2="639.5" y2="432.5" stroke="#e6e6e6" stroke-width="0.9" />
<line x1="385.5" y1="418.75" x2="639.5" y2="418.75" stroke="#e6e6e6" stroke-width="0.9" />
<line x1="385.5" y1="405" x2="639.5" y2="405" stroke="#e6e6e6" stroke-width="0.9" />
<line x1="385.5" y1="391.25" x2="639.5" y2="391.25" stroke="#e6e6e6" stroke-width="0.9" />
<line x1="385.5" y1="377.5" x2="639.5" y2="377.5" stroke="#e6e6e6" stroke-width="0.9" />
<line x1="385.5" y1="363.75" x2="639.5" y2="363.75" stroke="#e6e6e6" stroke-width="0.9" />
<line x1="385.5" y1="350" x2="639.5" y2="350" stroke="#e6e6e6" stroke-width="0.9" />
<line x1="385.5" y1="336.25" x2="639.5" y2="336.25" stroke="#e6e6e6" stroke-width="0.9" />
<line x1="385.5" y1="322.5" x2="639.5" y2="322.5" stroke="#e6e6e6" stroke-width="0.9" />
<line x1="385.5" y1="308.75" x2="639.5" y2="308.75" stroke="#e6e6e6" stroke-width="0.9" />
<line x1="385.5" y1="295" x2="639.5" y2="295" stroke="#e6e6e6" stroke-width="0.9" />
<line x1="385.5" y1="281.25" x2="639.5" y2="281.25" stroke="#e6e6e6" stroke-width="0.9" />
<path d="M410.9,466.88 L461.7,419.44 L512.5,409.26 L563.3,417.03 L614.1,449.69" fill="none" stroke="#3a62ad" stroke-width="1.7" stroke-linejoin="round" stroke-linecap="round" />
<path d="M410.9,364.02 L461.7,308.34 L512.5,290.05 L563.3,295.89 L614.1,352.75" fill="none" stroke="#5bbb9b" stroke-width="1.7" stroke-linejoin="round" stroke-linecap="round" />
<path d="M410.9,450.1 L461.7,365.77 L512.5,347.56 L563.3,361.37 L614.1,420.77" fill="none" stroke="#fcb262" stroke-width="1.7" stroke-linejoin="round" stroke-linecap="round" />
<polygon points="410.9,444.9 415.4,447.5 415.4,452.7 410.9,455.3 406.4,452.7 406.4,447.5" fill="#fcb262" stroke="#fff" stroke-width="1.6" paint-order="stroke"/>
<polygon points="461.7,360.57 466.2,363.17 466.2,368.37 461.7,370.97 457.2,368.37 457.2,363.17" fill="#fcb262" stroke="#fff" stroke-width="1.6" paint-order="stroke"/>
<polygon points="512.5,342.36 517,344.96 517,350.16 512.5,352.76 508,350.16 508,344.96" fill="#fcb262" stroke="#fff" stroke-width="1.6" paint-order="stroke"/>
<polygon points="563.3,356.17 567.8,358.77 567.8,363.97 563.3,366.57 558.8,363.97 558.8,358.77" fill="#fcb262" stroke="#fff" stroke-width="1.6" paint-order="stroke"/>
<polygon points="614.1,415.57 618.6,418.17 618.6,423.37 614.1,425.97 609.6,423.37 609.6,418.17" fill="#fcb262" stroke="#fff" stroke-width="1.6" paint-order="stroke"/>
<circle cx="410.9" cy="466.88" r="6.5" fill="#fff"/>
<circle cx="410.9" cy="466.88" r="4.9" fill="url(#gb)"/>
<circle cx="461.7" cy="419.44" r="6.5" fill="#fff"/>
<circle cx="461.7" cy="419.44" r="4.9" fill="url(#gb)"/>
<circle cx="512.5" cy="409.26" r="6.5" fill="#fff"/>
<circle cx="512.5" cy="409.26" r="4.9" fill="url(#gb)"/>
<circle cx="563.3" cy="417.03" r="6.5" fill="#fff"/>
<circle cx="563.3" cy="417.03" r="4.9" fill="url(#gb)"/>
<circle cx="614.1" cy="449.69" r="6.5" fill="#fff"/>
<circle cx="614.1" cy="449.69" r="4.9" fill="url(#gb)"/>
<circle cx="410.9" cy="364.02" r="6.5" fill="#fff"/>
<circle cx="410.9" cy="364.02" r="4.9" fill="url(#gt)"/>
<circle cx="461.7" cy="308.34" r="6.5" fill="#fff"/>
<circle cx="461.7" cy="308.34" r="4.9" fill="url(#gt)"/>
<circle cx="512.5" cy="290.05" r="6.5" fill="#fff"/>
<circle cx="512.5" cy="290.05" r="4.9" fill="url(#gt)"/>
<circle cx="563.3" cy="295.89" r="6.5" fill="#fff"/>
<circle cx="563.3" cy="295.89" r="4.9" fill="url(#gt)"/>
<circle cx="614.1" cy="352.75" r="6.5" fill="#fff"/>
<circle cx="614.1" cy="352.75" r="4.9" fill="url(#gt)"/>
<line x1="385.5" y1="267.5" x2="639.5" y2="267.5" stroke="#474747" stroke-width="1" />
<line x1="385.5" y1="267" x2="385.5" y2="488" stroke="#474747" stroke-width="1" />
<line x1="385.5" y1="487.5" x2="639.5" y2="487.5" stroke="#474747" stroke-width="1" />
<line x1="639.5" y1="267" x2="639.5" y2="488" stroke="#fcc98a" stroke-width="1" />
<line x1="410.9" y1="487.5" x2="410.9" y2="483.3" stroke="#474747" stroke-width="1" />
<text x="410.9" y="501.8" font-size="13" text-anchor="middle" fill="#1a1a1a" >0.00</text>
<line x1="461.7" y1="487.5" x2="461.7" y2="483.3" stroke="#474747" stroke-width="1" />
<text x="461.7" y="501.8" font-size="13" text-anchor="middle" fill="#1a1a1a" >0.05</text>
<line x1="512.5" y1="487.5" x2="512.5" y2="483.3" stroke="#474747" stroke-width="1" />
<text x="512.5" y="501.8" font-size="13" text-anchor="middle" fill="#1a1a1a" >0.10</text>
<line x1="563.3" y1="487.5" x2="563.3" y2="483.3" stroke="#474747" stroke-width="1" />
<text x="563.3" y="501.8" font-size="13" text-anchor="middle" fill="#1a1a1a" >0.15</text>
<line x1="614.1" y1="487.5" x2="614.1" y2="483.3" stroke="#474747" stroke-width="1" />
<text x="614.1" y="501.8" font-size="13" text-anchor="middle" fill="#1a1a1a" >0.20</text>
<line x1="436.3" y1="487.5" x2="436.3" y2="485" stroke="#474747" stroke-width="1" />
<line x1="487.1" y1="487.5" x2="487.1" y2="485" stroke="#474747" stroke-width="1" />
<line x1="537.9" y1="487.5" x2="537.9" y2="485" stroke="#474747" stroke-width="1" />
<line x1="588.7" y1="487.5" x2="588.7" y2="485" stroke="#474747" stroke-width="1" />
<line x1="385.5" y1="487.5" x2="389.7" y2="487.5" stroke="#474747" stroke-width="1" />
<text x="381" y="491.3" font-size="13" text-anchor="end" fill="#1a1a1a" >12</text>
<line x1="385.5" y1="460" x2="389.7" y2="460" stroke="#474747" stroke-width="1" />
<text x="381" y="463.8" font-size="13" text-anchor="end" fill="#1a1a1a" >16</text>
<line x1="385.5" y1="432.5" x2="389.7" y2="432.5" stroke="#474747" stroke-width="1" />
<text x="381" y="436.3" font-size="13" text-anchor="end" fill="#1a1a1a" >20</text>
<line x1="385.5" y1="405" x2="389.7" y2="405" stroke="#474747" stroke-width="1" />
<text x="381" y="408.8" font-size="13" text-anchor="end" fill="#1a1a1a" >24</text>
<line x1="385.5" y1="377.5" x2="389.7" y2="377.5" stroke="#474747" stroke-width="1" />
<text x="381" y="381.3" font-size="13" text-anchor="end" fill="#1a1a1a" >28</text>
<line x1="385.5" y1="350" x2="389.7" y2="350" stroke="#474747" stroke-width="1" />
<text x="381" y="353.8" font-size="13" text-anchor="end" fill="#1a1a1a" >32</text>
<line x1="385.5" y1="322.5" x2="389.7" y2="322.5" stroke="#474747" stroke-width="1" />
<text x="381" y="326.3" font-size="13" text-anchor="end" fill="#1a1a1a" >36</text>
<line x1="385.5" y1="295" x2="389.7" y2="295" stroke="#474747" stroke-width="1" />
<text x="381" y="298.8" font-size="13" text-anchor="end" fill="#1a1a1a" >40</text>
<line x1="385.5" y1="267.5" x2="389.7" y2="267.5" stroke="#474747" stroke-width="1" />
<text x="381" y="271.3" font-size="13" text-anchor="end" fill="#1a1a1a" >44</text>
<line x1="385.5" y1="473.75" x2="388" y2="473.75" stroke="#474747" stroke-width="1" />
<line x1="385.5" y1="446.25" x2="388" y2="446.25" stroke="#474747" stroke-width="1" />
<line x1="385.5" y1="418.75" x2="388" y2="418.75" stroke="#474747" stroke-width="1" />
<line x1="385.5" y1="391.25" x2="388" y2="391.25" stroke="#474747" stroke-width="1" />
<line x1="385.5" y1="363.75" x2="388" y2="363.75" stroke="#474747" stroke-width="1" />
<line x1="385.5" y1="336.25" x2="388" y2="336.25" stroke="#474747" stroke-width="1" />
<line x1="385.5" y1="308.75" x2="388" y2="308.75" stroke="#474747" stroke-width="1" />
<line x1="385.5" y1="281.25" x2="388" y2="281.25" stroke="#474747" stroke-width="1" />
<line x1="639.5" y1="487.5" x2="635.3" y2="487.5" stroke="#fcc98a" stroke-width="1" />
<text x="643.6" y="491.3" font-size="13" text-anchor="start" fill="#fcb262" >12</text>
<line x1="639.5" y1="463.06" x2="635.3" y2="463.06" stroke="#fcc98a" stroke-width="1" />
<text x="643.6" y="466.86" font-size="13" text-anchor="start" fill="#fcb262" >14</text>
<line x1="639.5" y1="438.61" x2="635.3" y2="438.61" stroke="#fcc98a" stroke-width="1" />
<text x="643.6" y="442.41" font-size="13" text-anchor="start" fill="#fcb262" >16</text>
<line x1="639.5" y1="414.17" x2="635.3" y2="414.17" stroke="#fcc98a" stroke-width="1" />
<text x="643.6" y="417.97" font-size="13" text-anchor="start" fill="#fcb262" >18</text>
<line x1="639.5" y1="389.72" x2="635.3" y2="389.72" stroke="#fcc98a" stroke-width="1" />
<text x="643.6" y="393.52" font-size="13" text-anchor="start" fill="#fcb262" >20</text>
<line x1="639.5" y1="365.28" x2="635.3" y2="365.28" stroke="#fcc98a" stroke-width="1" />
<text x="643.6" y="369.08" font-size="13" text-anchor="start" fill="#fcb262" >22</text>
<line x1="639.5" y1="340.83" x2="635.3" y2="340.83" stroke="#fcc98a" stroke-width="1" />
<text x="643.6" y="344.63" font-size="13" text-anchor="start" fill="#fcb262" >24</text>
<line x1="639.5" y1="316.39" x2="635.3" y2="316.39" stroke="#fcc98a" stroke-width="1" />
<text x="643.6" y="320.19" font-size="13" text-anchor="start" fill="#fcb262" >26</text>
<line x1="639.5" y1="291.94" x2="635.3" y2="291.94" stroke="#fcc98a" stroke-width="1" />
<text x="643.6" y="295.74" font-size="13" text-anchor="start" fill="#fcb262" >28</text>
<line x1="639.5" y1="267.5" x2="635.3" y2="267.5" stroke="#fcc98a" stroke-width="1" />
<text x="643.6" y="271.3" font-size="13" text-anchor="start" fill="#fcb262" >30</text>
<line x1="639.5" y1="475.28" x2="637" y2="475.28" stroke="#fcc98a" stroke-width="1" />
<line x1="639.5" y1="450.83" x2="637" y2="450.83" stroke="#fcc98a" stroke-width="1" />
<line x1="639.5" y1="426.39" x2="637" y2="426.39" stroke="#fcc98a" stroke-width="1" />
<line x1="639.5" y1="401.94" x2="637" y2="401.94" stroke="#fcc98a" stroke-width="1" />
<line x1="639.5" y1="377.5" x2="637" y2="377.5" stroke="#fcc98a" stroke-width="1" />
<line x1="639.5" y1="353.06" x2="637" y2="353.06" stroke="#fcc98a" stroke-width="1" />
<line x1="639.5" y1="328.61" x2="637" y2="328.61" stroke="#fcc98a" stroke-width="1" />
<line x1="639.5" y1="304.17" x2="637" y2="304.17" stroke="#fcc98a" stroke-width="1" />
<line x1="639.5" y1="279.72" x2="637" y2="279.72" stroke="#fcc98a" stroke-width="1" />
<text x="344.7" y="280.5" font-size="18" text-anchor="start" fill="#1a1a1a" >(d)</text>
<text x="439" y="521.6" font-size="16.9" text-anchor="start" fill="#1a1a1a" >Content of GaN (wt%)</text>
<text transform="translate(360.6,377.4) rotate(-90)" font-size="17" text-anchor="middle" fill="#1a1a1a">Polarization (μC cm<tspan font-size="11" dy="-6">-2</tspan><tspan dy="6">)</tspan></text>
<text transform="translate(677.2,376.6) rotate(-90)" font-size="17.4" text-anchor="middle" fill="#fcb262"><tspan font-style="italic">E</tspan><tspan font-size="11" dy="3">c</tspan><tspan dy="-3"> (kV cm</tspan><tspan font-size="11" dy="-6">-1</tspan><tspan dy="6">)</tspan></text>
<line x1="392" y1="278.9" x2="400.5" y2="278.9" stroke="#3a62ad" stroke-width="1.4" />
<line x1="413.3" y1="278.9" x2="421" y2="278.9" stroke="#3a62ad" stroke-width="1.4" />
<circle cx="406.9" cy="278.9" r="6.5" fill="#fff"/>
<circle cx="406.9" cy="278.9" r="4.9" fill="url(#gb)"/>
<text x="425.7" y="283.9" font-size="14" text-anchor="start" fill="#1a1a1a" ><tspan font-style="italic">P</tspan><tspan font-size="9" dy="3">r</tspan></text>
<line x1="392" y1="300.1" x2="400.5" y2="300.1" stroke="#5bbb9b" stroke-width="1.4" />
<line x1="413.3" y1="300.1" x2="421" y2="300.1" stroke="#5bbb9b" stroke-width="1.4" />
<circle cx="406.9" cy="300.1" r="6.5" fill="#fff"/>
<circle cx="406.9" cy="300.1" r="4.9" fill="url(#gt)"/>
<text x="425.7" y="305.1" font-size="14" text-anchor="start" fill="#1a1a1a" ><tspan font-style="italic">P</tspan><tspan font-size="9" dy="3">s</tspan></text>
<line x1="392" y1="321" x2="400.5" y2="321" stroke="#fcb262" stroke-width="1.4" />
<line x1="413.3" y1="321" x2="421" y2="321" stroke="#fcb262" stroke-width="1.4" />
<polygon points="406.9,315.8 411.4,318.4 411.4,323.6 406.9,326.2 402.4,323.6 402.4,318.4" fill="#fcb262" stroke="#fff" stroke-width="1.6" paint-order="stroke"/>
<text x="425.7" y="326" font-size="14" text-anchor="start" fill="#1a1a1a" ><tspan font-style="italic">E</tspan><tspan font-size="9" dy="3">c</tspan></text>
</svg></body></html>
